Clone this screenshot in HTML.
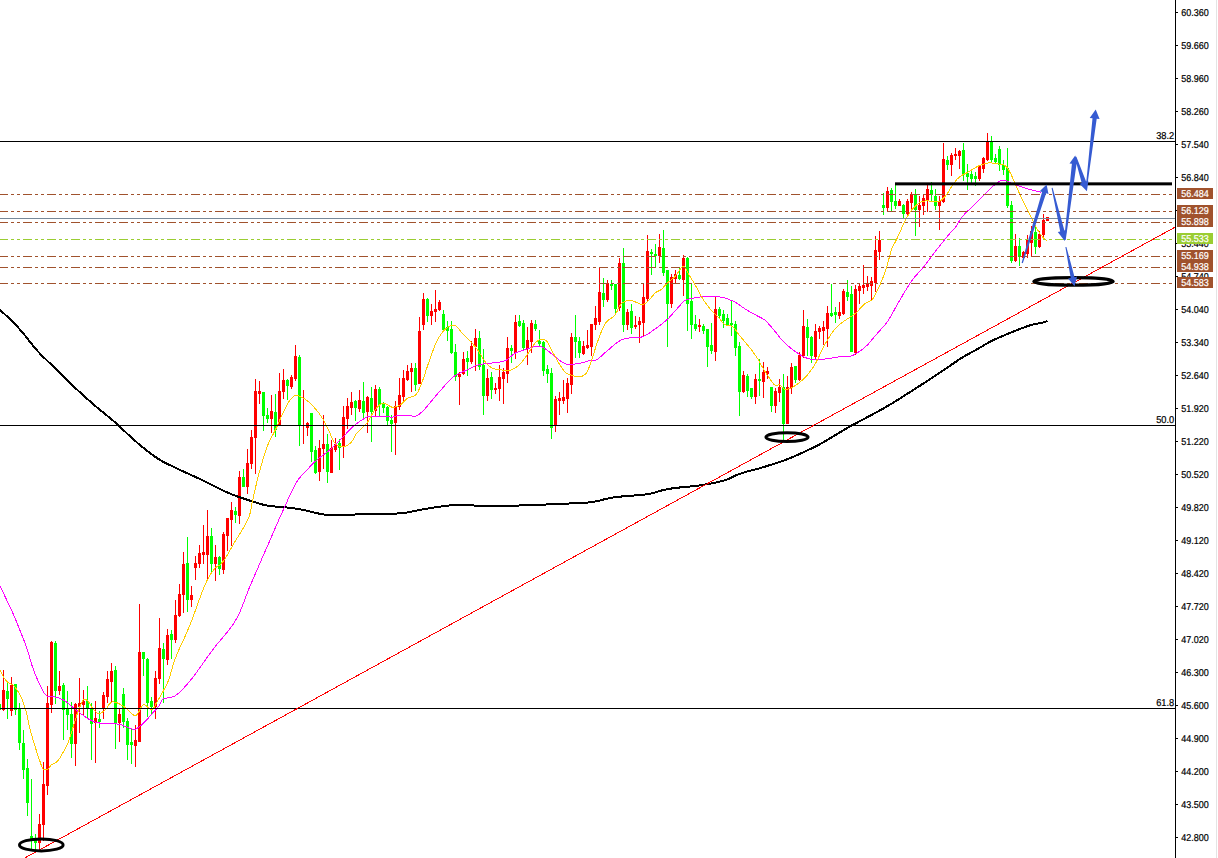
<!DOCTYPE html>
<html><head><meta charset="utf-8"><title>chart</title>
<style>
html,body{margin:0;padding:0;background:#fff;}
body{width:1218px;height:858px;overflow:hidden;font-family:"Liberation Sans",sans-serif;}
svg{display:block;}
text{font-family:"Liberation Sans",sans-serif;font-size:10px;stroke-width:0.22px;}
</style></head><body>
<svg width="1218" height="858" viewBox="0 0 1218 858">
<rect x="0" y="0" width="1218" height="858" fill="#ffffff"/>
<rect x="1216" y="0" width="1" height="858" fill="#e4e4e4"/>
<g fill="#FF0000" shape-rendering="crispEdges"><rect x="3" y="670" width="1" height="41"/><rect x="2" y="690" width="3" height="20"/><rect x="11" y="677" width="1" height="39"/><rect x="10" y="685" width="3" height="26"/><rect x="39" y="814" width="1" height="36"/><rect x="38" y="824" width="3" height="19"/><rect x="43" y="762" width="1" height="79"/><rect x="42" y="784" width="3" height="41"/><rect x="47" y="686" width="1" height="109"/><rect x="46" y="703" width="3" height="83"/><rect x="51" y="641" width="1" height="72"/><rect x="50" y="642" width="3" height="63"/><rect x="59" y="671" width="1" height="24"/><rect x="58" y="686" width="3" height="5"/><rect x="75" y="703" width="1" height="63"/><rect x="74" y="704" width="3" height="40"/><rect x="79" y="678" width="1" height="55"/><rect x="78" y="703" width="3" height="4"/><rect x="83" y="690" width="1" height="25"/><rect x="82" y="701" width="3" height="4"/><rect x="95" y="701" width="1" height="62"/><rect x="94" y="718" width="3" height="5"/><rect x="103" y="692" width="1" height="27"/><rect x="102" y="695" width="3" height="14"/><rect x="107" y="671" width="1" height="32"/><rect x="106" y="679" width="3" height="18"/><rect x="111" y="663" width="1" height="40"/><rect x="110" y="671" width="3" height="11"/><rect x="119" y="709" width="1" height="33"/><rect x="118" y="714" width="3" height="9"/><rect x="135" y="725" width="1" height="42"/><rect x="134" y="740" width="3" height="6"/><rect x="139" y="604" width="1" height="138"/><rect x="138" y="652" width="3" height="90"/><rect x="155" y="671" width="1" height="48"/><rect x="154" y="678" width="3" height="29"/><rect x="159" y="618" width="1" height="66"/><rect x="158" y="648" width="3" height="31"/><rect x="167" y="629" width="1" height="36"/><rect x="166" y="635" width="3" height="25"/><rect x="175" y="600" width="1" height="43"/><rect x="174" y="615" width="3" height="25"/><rect x="179" y="584" width="1" height="33"/><rect x="178" y="594" width="3" height="22"/><rect x="183" y="552" width="1" height="61"/><rect x="182" y="564" width="3" height="31"/><rect x="191" y="586" width="1" height="21"/><rect x="190" y="595" width="3" height="5"/><rect x="195" y="556" width="1" height="24"/><rect x="194" y="563" width="3" height="5"/><rect x="199" y="545" width="1" height="23"/><rect x="198" y="553" width="3" height="11"/><rect x="203" y="525" width="1" height="39"/><rect x="202" y="552" width="3" height="3"/><rect x="207" y="510" width="1" height="70"/><rect x="206" y="536" width="3" height="19"/><rect x="215" y="545" width="1" height="36"/><rect x="214" y="557" width="3" height="7"/><rect x="223" y="532" width="1" height="42"/><rect x="222" y="534" width="3" height="36"/><rect x="227" y="518" width="1" height="33"/><rect x="226" y="518" width="3" height="18"/><rect x="231" y="502" width="1" height="44"/><rect x="230" y="510" width="3" height="10"/><rect x="239" y="471" width="1" height="53"/><rect x="238" y="477" width="3" height="39"/><rect x="247" y="449" width="1" height="45"/><rect x="246" y="463" width="3" height="24"/><rect x="251" y="430" width="1" height="39"/><rect x="250" y="437" width="3" height="27"/><rect x="255" y="379" width="1" height="95"/><rect x="254" y="391" width="3" height="47"/><rect x="259" y="381" width="1" height="23"/><rect x="258" y="391" width="3" height="3"/><rect x="271" y="395" width="1" height="38"/><rect x="270" y="411" width="3" height="8"/><rect x="279" y="373" width="1" height="53"/><rect x="278" y="391" width="3" height="35"/><rect x="283" y="369" width="1" height="30"/><rect x="282" y="380" width="3" height="12"/><rect x="291" y="375" width="1" height="14"/><rect x="290" y="377" width="3" height="10"/><rect x="295" y="345" width="1" height="36"/><rect x="294" y="356" width="3" height="23"/><rect x="303" y="390" width="1" height="54"/><rect x="302" y="425" width="3" height="1"/><rect x="307" y="422" width="1" height="14"/><rect x="306" y="423" width="3" height="5"/><rect x="319" y="440" width="1" height="41"/><rect x="318" y="448" width="3" height="24"/><rect x="323" y="415" width="1" height="54"/><rect x="322" y="444" width="3" height="5"/><rect x="331" y="440" width="1" height="33"/><rect x="330" y="448" width="3" height="25"/><rect x="335" y="438" width="1" height="14"/><rect x="334" y="444" width="3" height="6"/><rect x="343" y="406" width="1" height="52"/><rect x="342" y="417" width="3" height="30"/><rect x="347" y="398" width="1" height="31"/><rect x="346" y="406" width="3" height="13"/><rect x="351" y="392" width="1" height="23"/><rect x="350" y="402" width="3" height="6"/><rect x="359" y="390" width="1" height="22"/><rect x="358" y="400" width="3" height="9"/><rect x="367" y="396" width="1" height="37"/><rect x="366" y="397" width="3" height="15"/><rect x="375" y="385" width="1" height="31"/><rect x="374" y="389" width="3" height="22"/><rect x="395" y="401" width="1" height="54"/><rect x="394" y="406" width="3" height="17"/><rect x="399" y="378" width="1" height="32"/><rect x="398" y="395" width="3" height="12"/><rect x="403" y="370" width="1" height="32"/><rect x="402" y="378" width="3" height="19"/><rect x="407" y="365" width="1" height="16"/><rect x="406" y="371" width="3" height="9"/><rect x="411" y="363" width="1" height="29"/><rect x="410" y="368" width="3" height="4"/><rect x="419" y="317" width="1" height="67"/><rect x="418" y="331" width="3" height="53"/><rect x="423" y="293" width="1" height="37"/><rect x="422" y="299" width="3" height="26"/><rect x="431" y="304" width="1" height="21"/><rect x="430" y="311" width="3" height="5"/><rect x="435" y="290" width="1" height="32"/><rect x="434" y="309" width="3" height="3"/><rect x="439" y="300" width="1" height="11"/><rect x="438" y="302" width="3" height="8"/><rect x="459" y="372" width="1" height="33"/><rect x="458" y="374" width="3" height="3"/><rect x="463" y="352" width="1" height="23"/><rect x="462" y="359" width="3" height="15"/><rect x="471" y="341" width="1" height="23"/><rect x="470" y="346" width="3" height="16"/><rect x="475" y="329" width="1" height="42"/><rect x="474" y="338" width="3" height="9"/><rect x="487" y="369" width="1" height="32"/><rect x="486" y="378" width="3" height="18"/><rect x="495" y="383" width="1" height="11"/><rect x="494" y="388" width="3" height="2"/><rect x="499" y="365" width="1" height="36"/><rect x="498" y="377" width="3" height="12"/><rect x="503" y="368" width="1" height="36"/><rect x="502" y="372" width="3" height="7"/><rect x="507" y="337" width="1" height="46"/><rect x="506" y="348" width="3" height="26"/><rect x="515" y="315" width="1" height="44"/><rect x="514" y="322" width="3" height="31"/><rect x="527" y="327" width="1" height="38"/><rect x="526" y="340" width="3" height="9"/><rect x="531" y="320" width="1" height="33"/><rect x="530" y="323" width="3" height="19"/><rect x="555" y="396" width="1" height="36"/><rect x="554" y="399" width="3" height="27"/><rect x="559" y="392" width="1" height="23"/><rect x="558" y="398" width="3" height="3"/><rect x="563" y="380" width="1" height="24"/><rect x="562" y="397" width="3" height="4"/><rect x="567" y="378" width="1" height="35"/><rect x="566" y="383" width="3" height="16"/><rect x="571" y="333" width="1" height="61"/><rect x="570" y="337" width="3" height="48"/><rect x="583" y="341" width="1" height="14"/><rect x="582" y="346" width="3" height="8"/><rect x="587" y="330" width="1" height="19"/><rect x="586" y="345" width="3" height="3"/><rect x="591" y="324" width="1" height="32"/><rect x="590" y="324" width="3" height="23"/><rect x="595" y="306" width="1" height="24"/><rect x="594" y="318" width="3" height="7"/><rect x="599" y="268" width="1" height="57"/><rect x="598" y="292" width="3" height="30"/><rect x="607" y="280" width="1" height="22"/><rect x="606" y="283" width="3" height="17"/><rect x="619" y="258" width="1" height="53"/><rect x="618" y="263" width="3" height="45"/><rect x="627" y="309" width="1" height="21"/><rect x="626" y="312" width="3" height="13"/><rect x="635" y="316" width="1" height="13"/><rect x="634" y="325" width="3" height="2"/><rect x="639" y="317" width="1" height="26"/><rect x="638" y="321" width="3" height="4"/><rect x="643" y="283" width="1" height="54"/><rect x="642" y="297" width="3" height="26"/><rect x="647" y="235" width="1" height="67"/><rect x="646" y="251" width="3" height="48"/><rect x="659" y="234" width="1" height="29"/><rect x="658" y="247" width="3" height="9"/><rect x="671" y="274" width="1" height="34"/><rect x="670" y="277" width="3" height="27"/><rect x="675" y="270" width="1" height="14"/><rect x="674" y="274" width="3" height="5"/><rect x="683" y="255" width="1" height="41"/><rect x="682" y="258" width="3" height="22"/><rect x="699" y="319" width="1" height="13"/><rect x="698" y="325" width="3" height="2"/><rect x="715" y="297" width="1" height="64"/><rect x="714" y="309" width="3" height="43"/><rect x="743" y="371" width="1" height="22"/><rect x="742" y="375" width="3" height="17"/><rect x="755" y="374" width="1" height="30"/><rect x="754" y="379" width="3" height="18"/><rect x="763" y="362" width="1" height="36"/><rect x="762" y="372" width="3" height="10"/><rect x="767" y="367" width="1" height="12"/><rect x="766" y="371" width="3" height="3"/><rect x="775" y="388" width="1" height="25"/><rect x="774" y="391" width="3" height="15"/><rect x="779" y="379" width="1" height="23"/><rect x="778" y="387" width="3" height="6"/><rect x="787" y="376" width="1" height="48"/><rect x="786" y="387" width="3" height="37"/><rect x="791" y="363" width="1" height="31"/><rect x="790" y="367" width="3" height="21"/><rect x="799" y="352" width="1" height="29"/><rect x="798" y="355" width="3" height="25"/><rect x="803" y="310" width="1" height="48"/><rect x="802" y="326" width="3" height="30"/><rect x="815" y="324" width="1" height="36"/><rect x="814" y="331" width="3" height="26"/><rect x="819" y="326" width="1" height="13"/><rect x="818" y="328" width="3" height="4"/><rect x="823" y="321" width="1" height="24"/><rect x="822" y="327" width="3" height="4"/><rect x="827" y="306" width="1" height="41"/><rect x="826" y="313" width="3" height="16"/><rect x="839" y="302" width="1" height="17"/><rect x="838" y="312" width="3" height="4"/><rect x="843" y="289" width="1" height="26"/><rect x="842" y="291" width="3" height="23"/><rect x="855" y="285" width="1" height="70"/><rect x="854" y="289" width="3" height="64"/><rect x="859" y="283" width="1" height="21"/><rect x="858" y="286" width="3" height="5"/><rect x="863" y="265" width="1" height="29"/><rect x="862" y="285" width="3" height="3"/><rect x="867" y="276" width="1" height="15"/><rect x="866" y="284" width="3" height="3"/><rect x="871" y="277" width="1" height="24"/><rect x="870" y="281" width="3" height="5"/><rect x="875" y="236" width="1" height="56"/><rect x="874" y="250" width="3" height="33"/><rect x="879" y="231" width="1" height="29"/><rect x="878" y="240" width="3" height="12"/><rect x="887" y="187" width="1" height="25"/><rect x="886" y="191" width="3" height="17"/><rect x="899" y="199" width="1" height="7"/><rect x="898" y="201" width="3" height="5"/><rect x="907" y="199" width="1" height="16"/><rect x="906" y="201" width="3" height="13"/><rect x="911" y="192" width="1" height="19"/><rect x="910" y="194" width="3" height="9"/><rect x="919" y="196" width="1" height="31"/><rect x="918" y="205" width="3" height="5"/><rect x="923" y="194" width="1" height="21"/><rect x="922" y="198" width="3" height="8"/><rect x="927" y="185" width="1" height="27"/><rect x="926" y="189" width="3" height="11"/><rect x="939" y="196" width="1" height="34"/><rect x="938" y="201" width="3" height="5"/><rect x="943" y="143" width="1" height="60"/><rect x="942" y="159" width="3" height="43"/><rect x="951" y="153" width="1" height="23"/><rect x="950" y="155" width="3" height="10"/><rect x="955" y="148" width="1" height="12"/><rect x="954" y="154" width="3" height="2"/><rect x="959" y="150" width="1" height="19"/><rect x="958" y="151" width="3" height="5"/><rect x="979" y="165" width="1" height="16"/><rect x="978" y="166" width="3" height="13"/><rect x="983" y="157" width="1" height="16"/><rect x="982" y="158" width="3" height="11"/><rect x="987" y="133" width="1" height="28"/><rect x="986" y="141" width="3" height="19"/><rect x="1015" y="234" width="1" height="28"/><rect x="1014" y="246" width="3" height="15"/><rect x="1023" y="251" width="1" height="9"/><rect x="1022" y="252" width="3" height="6"/><rect x="1027" y="235" width="1" height="23"/><rect x="1026" y="240" width="3" height="14"/><rect x="1031" y="226" width="1" height="31"/><rect x="1030" y="231" width="3" height="12"/><rect x="1039" y="231" width="1" height="17"/><rect x="1038" y="234" width="3" height="13"/><rect x="1043" y="214" width="1" height="25"/><rect x="1042" y="220" width="3" height="15"/><rect x="1047" y="217" width="1" height="4"/><rect x="1046" y="217" width="3" height="4"/></g>
<g fill="#00FF00" shape-rendering="crispEdges"><rect x="7" y="683" width="1" height="36"/><rect x="6" y="691" width="3" height="8"/><rect x="15" y="684" width="1" height="31"/><rect x="14" y="684" width="3" height="26"/><rect x="19" y="703" width="1" height="47"/><rect x="18" y="709" width="3" height="34"/><rect x="23" y="730" width="1" height="49"/><rect x="22" y="743" width="3" height="27"/><rect x="27" y="759" width="1" height="57"/><rect x="26" y="768" width="3" height="35"/><rect x="31" y="779" width="1" height="71"/><rect x="30" y="836" width="3" height="4"/><rect x="35" y="834" width="1" height="16"/><rect x="34" y="840" width="3" height="3"/><rect x="55" y="641" width="1" height="63"/><rect x="54" y="643" width="3" height="48"/><rect x="63" y="683" width="1" height="57"/><rect x="62" y="685" width="3" height="25"/><rect x="67" y="691" width="1" height="39"/><rect x="66" y="709" width="3" height="6"/><rect x="71" y="702" width="1" height="56"/><rect x="70" y="714" width="3" height="30"/><rect x="87" y="686" width="1" height="32"/><rect x="86" y="701" width="3" height="8"/><rect x="91" y="703" width="1" height="57"/><rect x="90" y="709" width="3" height="15"/><rect x="99" y="711" width="1" height="17"/><rect x="98" y="719" width="3" height="3"/><rect x="115" y="666" width="1" height="83"/><rect x="114" y="670" width="3" height="53"/><rect x="123" y="688" width="1" height="40"/><rect x="122" y="694" width="3" height="28"/><rect x="127" y="718" width="1" height="42"/><rect x="126" y="721" width="3" height="24"/><rect x="131" y="729" width="1" height="35"/><rect x="130" y="742" width="3" height="3"/><rect x="143" y="652" width="1" height="24"/><rect x="142" y="652" width="3" height="7"/><rect x="147" y="658" width="1" height="59"/><rect x="146" y="659" width="3" height="44"/><rect x="151" y="697" width="1" height="18"/><rect x="150" y="701" width="3" height="6"/><rect x="163" y="643" width="1" height="60"/><rect x="162" y="649" width="3" height="10"/><rect x="171" y="630" width="1" height="29"/><rect x="170" y="634" width="3" height="6"/><rect x="187" y="537" width="1" height="75"/><rect x="186" y="563" width="3" height="37"/><rect x="211" y="528" width="1" height="46"/><rect x="210" y="536" width="3" height="28"/><rect x="219" y="556" width="1" height="19"/><rect x="218" y="557" width="3" height="12"/><rect x="235" y="507" width="1" height="16"/><rect x="234" y="511" width="3" height="4"/><rect x="243" y="469" width="1" height="18"/><rect x="242" y="477" width="3" height="10"/><rect x="263" y="392" width="1" height="39"/><rect x="262" y="392" width="3" height="24"/><rect x="267" y="408" width="1" height="15"/><rect x="266" y="415" width="3" height="4"/><rect x="275" y="394" width="1" height="43"/><rect x="274" y="412" width="3" height="18"/><rect x="287" y="379" width="1" height="21"/><rect x="286" y="380" width="3" height="6"/><rect x="299" y="355" width="1" height="91"/><rect x="298" y="357" width="3" height="69"/><rect x="311" y="413" width="1" height="49"/><rect x="310" y="413" width="3" height="39"/><rect x="315" y="446" width="1" height="28"/><rect x="314" y="450" width="3" height="23"/><rect x="327" y="434" width="1" height="49"/><rect x="326" y="444" width="3" height="28"/><rect x="339" y="439" width="1" height="31"/><rect x="338" y="443" width="3" height="5"/><rect x="355" y="400" width="1" height="21"/><rect x="354" y="401" width="3" height="7"/><rect x="363" y="382" width="1" height="37"/><rect x="362" y="401" width="3" height="12"/><rect x="371" y="387" width="1" height="55"/><rect x="370" y="398" width="3" height="14"/><rect x="379" y="387" width="1" height="29"/><rect x="378" y="389" width="3" height="16"/><rect x="383" y="402" width="1" height="11"/><rect x="382" y="403" width="3" height="5"/><rect x="387" y="406" width="1" height="20"/><rect x="386" y="407" width="3" height="14"/><rect x="391" y="415" width="1" height="37"/><rect x="390" y="420" width="3" height="4"/><rect x="415" y="363" width="1" height="28"/><rect x="414" y="368" width="3" height="17"/><rect x="427" y="298" width="1" height="24"/><rect x="426" y="299" width="3" height="17"/><rect x="443" y="310" width="1" height="21"/><rect x="442" y="314" width="3" height="16"/><rect x="447" y="321" width="1" height="20"/><rect x="446" y="327" width="3" height="4"/><rect x="451" y="321" width="1" height="33"/><rect x="450" y="329" width="3" height="24"/><rect x="455" y="344" width="1" height="37"/><rect x="454" y="352" width="3" height="25"/><rect x="467" y="351" width="1" height="25"/><rect x="466" y="358" width="3" height="4"/><rect x="479" y="331" width="1" height="39"/><rect x="478" y="338" width="3" height="29"/><rect x="483" y="349" width="1" height="66"/><rect x="482" y="365" width="3" height="31"/><rect x="491" y="372" width="1" height="27"/><rect x="490" y="377" width="3" height="13"/><rect x="511" y="345" width="1" height="18"/><rect x="510" y="348" width="3" height="3"/><rect x="519" y="315" width="1" height="12"/><rect x="518" y="321" width="3" height="5"/><rect x="523" y="320" width="1" height="31"/><rect x="522" y="323" width="3" height="25"/><rect x="535" y="320" width="1" height="11"/><rect x="534" y="324" width="3" height="5"/><rect x="539" y="330" width="1" height="17"/><rect x="538" y="341" width="3" height="3"/><rect x="543" y="341" width="1" height="35"/><rect x="542" y="342" width="3" height="29"/><rect x="547" y="365" width="1" height="18"/><rect x="546" y="369" width="3" height="5"/><rect x="551" y="368" width="1" height="71"/><rect x="550" y="373" width="3" height="55"/><rect x="575" y="315" width="1" height="43"/><rect x="574" y="337" width="3" height="5"/><rect x="579" y="337" width="1" height="21"/><rect x="578" y="341" width="3" height="12"/><rect x="603" y="278" width="1" height="29"/><rect x="602" y="293" width="3" height="7"/><rect x="611" y="280" width="1" height="10"/><rect x="610" y="284" width="3" height="2"/><rect x="615" y="284" width="1" height="31"/><rect x="614" y="284" width="3" height="25"/><rect x="623" y="248" width="1" height="84"/><rect x="622" y="263" width="3" height="62"/><rect x="631" y="304" width="1" height="30"/><rect x="630" y="311" width="3" height="17"/><rect x="651" y="249" width="1" height="26"/><rect x="650" y="252" width="3" height="2"/><rect x="655" y="244" width="1" height="24"/><rect x="654" y="254" width="3" height="2"/><rect x="663" y="230" width="1" height="46"/><rect x="662" y="248" width="3" height="25"/><rect x="667" y="270" width="1" height="77"/><rect x="666" y="270" width="3" height="34"/><rect x="679" y="268" width="1" height="12"/><rect x="678" y="275" width="3" height="4"/><rect x="687" y="257" width="1" height="74"/><rect x="686" y="258" width="3" height="46"/><rect x="691" y="284" width="1" height="55"/><rect x="690" y="301" width="3" height="24"/><rect x="695" y="315" width="1" height="16"/><rect x="694" y="324" width="3" height="5"/><rect x="703" y="324" width="1" height="10"/><rect x="702" y="326" width="3" height="5"/><rect x="707" y="329" width="1" height="38"/><rect x="706" y="329" width="3" height="18"/><rect x="711" y="323" width="1" height="31"/><rect x="710" y="345" width="3" height="6"/><rect x="719" y="307" width="1" height="12"/><rect x="718" y="309" width="3" height="7"/><rect x="723" y="310" width="1" height="18"/><rect x="722" y="314" width="3" height="7"/><rect x="727" y="314" width="1" height="12"/><rect x="726" y="318" width="3" height="7"/><rect x="731" y="301" width="1" height="35"/><rect x="730" y="323" width="3" height="2"/><rect x="735" y="321" width="1" height="35"/><rect x="734" y="324" width="3" height="24"/><rect x="739" y="342" width="1" height="74"/><rect x="738" y="346" width="3" height="46"/><rect x="747" y="374" width="1" height="23"/><rect x="746" y="376" width="3" height="15"/><rect x="751" y="388" width="1" height="11"/><rect x="750" y="388" width="3" height="9"/><rect x="759" y="359" width="1" height="37"/><rect x="758" y="379" width="3" height="2"/><rect x="771" y="387" width="1" height="25"/><rect x="770" y="387" width="3" height="19"/><rect x="783" y="374" width="1" height="68"/><rect x="782" y="387" width="3" height="37"/><rect x="795" y="366" width="1" height="17"/><rect x="794" y="366" width="3" height="14"/><rect x="807" y="319" width="1" height="37"/><rect x="806" y="327" width="3" height="11"/><rect x="811" y="336" width="1" height="27"/><rect x="810" y="337" width="3" height="19"/><rect x="831" y="284" width="1" height="33"/><rect x="830" y="313" width="3" height="3"/><rect x="835" y="307" width="1" height="16"/><rect x="834" y="312" width="3" height="3"/><rect x="847" y="280" width="1" height="21"/><rect x="846" y="292" width="3" height="5"/><rect x="851" y="286" width="1" height="66"/><rect x="850" y="294" width="3" height="58"/><rect x="883" y="193" width="1" height="22"/><rect x="882" y="205" width="3" height="3"/><rect x="891" y="188" width="1" height="24"/><rect x="890" y="190" width="3" height="12"/><rect x="895" y="185" width="1" height="24"/><rect x="894" y="201" width="3" height="5"/><rect x="903" y="204" width="1" height="14"/><rect x="902" y="205" width="3" height="9"/><rect x="915" y="189" width="1" height="47"/><rect x="914" y="195" width="3" height="15"/><rect x="931" y="182" width="1" height="20"/><rect x="930" y="190" width="3" height="5"/><rect x="935" y="189" width="1" height="21"/><rect x="934" y="196" width="3" height="10"/><rect x="947" y="156" width="1" height="14"/><rect x="946" y="160" width="3" height="5"/><rect x="963" y="143" width="1" height="38"/><rect x="962" y="150" width="3" height="24"/><rect x="967" y="164" width="1" height="26"/><rect x="966" y="173" width="3" height="4"/><rect x="971" y="169" width="1" height="14"/><rect x="970" y="174" width="3" height="5"/><rect x="975" y="172" width="1" height="14"/><rect x="974" y="176" width="3" height="3"/><rect x="991" y="136" width="1" height="27"/><rect x="990" y="141" width="3" height="19"/><rect x="995" y="154" width="1" height="9"/><rect x="994" y="158" width="3" height="4"/><rect x="999" y="146" width="1" height="25"/><rect x="998" y="149" width="3" height="16"/><rect x="1003" y="160" width="1" height="15"/><rect x="1002" y="165" width="3" height="5"/><rect x="1007" y="148" width="1" height="60"/><rect x="1006" y="168" width="3" height="38"/><rect x="1011" y="201" width="1" height="62"/><rect x="1010" y="205" width="3" height="56"/><rect x="1019" y="238" width="1" height="28"/><rect x="1018" y="246" width="3" height="11"/><rect x="1035" y="227" width="1" height="27"/><rect x="1034" y="232" width="3" height="15"/><rect x="0" y="704" width="1" height="6"/></g>
<polyline points="-1.0,308.7 -0.8,308.9 -0.2,309.4 0.6,310.3 1.8,311.4 3.2,312.8 4.8,314.3 6.6,316.0 8.4,317.8 10.4,319.7 12.3,321.7 14.2,323.6 16.1,325.5 17.9,327.3 19.5,329.1 20.9,330.6 22.4,332.3 23.8,334.0 25.2,335.7 26.5,337.4 27.9,339.1 29.2,340.8 30.5,342.5 31.8,344.1 33.1,345.7 34.3,347.3 35.6,348.8 36.9,350.3 38.5,352.0 39.9,353.5 41.4,355.0 42.8,356.4 44.3,357.9 45.9,359.4 47.5,361.0 49.3,362.7 50.6,363.9 51.9,365.2 53.3,366.6 54.7,368.0 56.2,369.5 57.8,371.0 59.3,372.6 60.9,374.1 62.5,375.7 64.2,377.3 65.8,378.9 67.4,380.4 69.0,382.0 70.6,383.5 72.1,384.9 73.6,386.3 75.0,387.7 76.4,389.0 78.1,390.6 79.7,392.1 81.3,393.5 82.8,394.9 84.3,396.3 85.8,397.6 87.3,399.0 88.8,400.3 90.4,401.7 92.0,403.1 93.6,404.5 95.1,405.8 96.6,407.1 98.2,408.4 99.8,409.7 101.4,411.0 103.1,412.4 104.7,413.7 106.4,415.1 108.0,416.4 109.6,417.7 111.2,419.1 112.8,420.4 114.3,421.7 115.8,423.0 117.5,424.5 119.1,426.0 120.7,427.5 122.3,429.0 123.8,430.5 125.4,431.9 126.9,433.4 128.4,434.8 130.0,436.3 131.5,437.6 133.0,439.0 134.7,440.5 136.4,441.9 138.0,443.4 139.7,444.8 141.3,446.1 143.0,447.5 144.6,448.8 146.2,450.1 147.8,451.3 149.6,452.7 151.3,454.0 153.0,455.2 154.7,456.5 156.4,457.6 158.2,458.8 160.1,460.0 161.8,461.0 163.6,462.0 165.5,462.9 167.3,463.9 169.2,464.8 171.2,465.7 173.2,466.7 175.2,467.6 177.3,468.6 179.0,469.4 180.8,470.3 182.7,471.1 184.5,472.0 186.4,472.8 188.3,473.7 190.3,474.6 192.2,475.5 194.2,476.4 196.1,477.3 198.1,478.2 200.1,479.1 202.0,480.0 203.8,480.9 205.6,481.7 207.4,482.7 209.3,483.6 211.1,484.5 213.0,485.5 214.8,486.4 216.7,487.4 218.5,488.3 220.4,489.2 222.2,490.1 223.9,490.9 225.7,491.7 227.4,492.5 229.0,493.2 231.1,494.1 233.0,494.8 235.0,495.6 236.8,496.2 238.7,496.9 240.5,497.5 242.4,498.1 244.3,498.8 246.3,499.4 248.3,500.1 250.3,500.7 252.4,501.4 254.5,502.1 256.6,502.8 258.7,503.4 260.8,504.0 262.9,504.6 265.0,505.1 267.0,505.5 269.0,505.8 271.1,506.1 273.1,506.3 275.1,506.5 277.1,506.6 279.1,506.7 281.1,506.8 283.0,507.0 285.0,507.2 287.1,507.5 289.2,507.7 291.2,508.0 293.3,508.3 295.3,508.6 297.4,508.9 299.4,509.2 301.5,509.6 303.5,510.0 305.6,510.5 307.7,510.9 309.8,511.5 311.9,512.0 314.0,512.5 315.9,512.9 317.8,513.4 319.5,513.7 321.7,514.1 323.6,514.4 325.5,514.7 327.8,514.9 329.5,515.0 331.4,515.1 333.5,515.1 335.8,515.2 338.1,515.2 340.4,515.2 342.7,515.2 345.0,515.1 347.1,515.1 349.1,515.0 350.8,514.9 353.3,514.7 355.4,514.4 357.5,514.0 360.0,513.8 361.7,513.7 363.5,513.7 365.5,513.7 367.7,513.7 369.9,513.7 372.1,513.7 374.4,513.8 376.7,513.8 379.0,513.8 381.2,513.8 383.3,513.8 385.3,513.8 387.4,513.8 389.5,513.7 391.5,513.7 393.5,513.6 395.4,513.6 397.4,513.5 399.3,513.4 401.3,513.2 403.4,513.0 405.5,512.7 407.5,512.4 409.6,512.0 411.7,511.6 413.8,511.2 416.0,510.7 418.1,510.3 420.4,509.8 422.6,509.4 425.0,509.0 426.9,508.7 428.8,508.4 430.7,508.1 432.7,507.8 434.8,507.4 436.9,507.1 439.0,506.8 441.1,506.5 443.2,506.2 445.3,505.9 447.4,505.7 449.5,505.4 451.6,505.2 453.6,505.0 455.6,504.9 457.5,504.8 459.7,504.7 461.8,504.7 463.9,504.8 466.0,504.9 468.0,505.0 470.1,505.2 472.1,505.3 474.1,505.5 476.2,505.6 478.4,505.7 480.5,505.8 482.8,505.9 484.6,505.9 486.5,505.9 488.4,506.0 490.3,506.0 492.3,506.0 494.3,505.9 496.3,505.9 498.3,505.9 500.3,505.9 502.3,505.9 504.4,505.8 506.5,505.8 508.5,505.7 510.6,505.7 512.7,505.7 514.8,505.6 516.9,505.6 519.0,505.5 521.0,505.4 523.0,505.4 525.1,505.3 527.1,505.2 529.2,505.2 531.3,505.1 533.5,505.0 535.6,504.9 537.7,504.8 539.9,504.7 542.0,504.6 544.2,504.5 546.3,504.5 548.4,504.4 550.5,504.3 552.5,504.2 554.5,504.1 556.5,504.0 558.5,503.9 560.4,503.8 562.3,503.7 564.6,503.6 566.8,503.5 569.0,503.5 571.1,503.4 573.2,503.3 575.3,503.3 577.4,503.2 579.4,503.1 581.4,503.0 583.4,502.9 585.4,502.8 587.4,502.6 589.3,502.4 591.2,502.2 593.3,501.9 595.3,501.5 597.2,501.1 599.1,500.7 601.0,500.2 602.8,499.7 604.7,499.2 606.7,498.7 608.7,498.3 610.7,497.9 612.9,497.5 614.7,497.2 616.6,497.0 618.5,496.8 620.5,496.6 622.6,496.4 624.7,496.2 626.8,496.1 629.0,495.9 631.2,495.7 633.3,495.6 635.4,495.4 637.6,495.3 639.6,495.1 641.6,494.9 643.6,494.7 645.5,494.4 647.3,494.2 649.0,493.9 651.3,493.4 653.3,492.9 655.3,492.4 657.1,491.9 659.0,491.3 660.8,490.7 662.8,490.2 664.8,489.7 667.1,489.2 668.8,488.9 670.6,488.6 672.5,488.4 674.5,488.1 676.5,487.9 678.5,487.6 680.7,487.4 682.8,487.2 684.9,487.0 687.1,486.8 689.3,486.6 691.4,486.4 693.5,486.2 695.6,485.9 697.6,485.7 699.5,485.4 701.4,485.2 703.2,484.9 705.4,484.5 707.6,484.2 709.7,483.8 711.7,483.4 713.7,483.0 715.7,482.6 717.6,482.2 719.5,481.7 721.3,481.2 723.1,480.7 724.9,480.2 727.1,479.4 729.1,478.6 731.1,477.7 733.0,476.7 735.0,475.8 737.0,474.9 739.3,474.0 741.0,473.4 742.8,472.8 744.7,472.3 746.6,471.7 748.6,471.2 750.6,470.6 752.6,470.1 754.7,469.6 756.7,469.0 758.8,468.5 760.7,467.9 762.7,467.4 764.6,466.8 766.6,466.2 768.7,465.5 770.7,464.9 772.7,464.3 774.7,463.6 776.7,463.0 778.6,462.3 780.6,461.7 782.5,461.0 784.4,460.3 786.3,459.6 788.2,458.8 790.2,458.1 792.1,457.3 794.0,456.5 795.8,455.7 797.7,454.8 799.5,454.0 801.4,453.2 803.2,452.3 805.0,451.5 806.9,450.6 808.7,449.8 810.4,448.9 812.2,448.1 814.0,447.2 815.8,446.3 817.6,445.4 819.5,444.4 821.5,443.3 823.1,442.4 824.7,441.5 826.4,440.6 828.1,439.5 829.8,438.5 831.6,437.4 833.4,436.3 835.2,435.2 837.1,434.1 838.9,433.0 840.7,431.9 842.5,430.8 844.3,429.8 846.0,428.7 847.7,427.7 849.4,426.8 851.3,425.8 853.1,424.7 855.0,423.7 856.8,422.8 858.6,421.8 860.3,420.9 862.1,419.9 863.9,419.0 865.6,418.1 867.3,417.2 869.1,416.2 870.8,415.3 872.7,414.3 874.6,413.3 876.4,412.3 878.2,411.3 879.9,410.4 881.8,409.3 883.7,408.3 885.6,407.2 887.7,405.9 890.0,404.6 891.4,403.8 892.8,402.9 894.4,401.9 896.0,400.9 897.7,399.9 899.4,398.8 901.2,397.7 903.0,396.5 904.9,395.3 906.8,394.1 908.8,392.9 910.7,391.6 912.7,390.4 914.7,389.1 916.6,387.9 918.6,386.6 920.5,385.3 922.4,384.1 924.3,382.9 926.2,381.7 928.0,380.5 929.7,379.3 931.4,378.2 933.1,377.2 934.6,376.1 936.1,375.2 937.5,374.3 938.8,373.4 940.0,372.6 942.3,371.1 944.3,369.7 946.1,368.5 947.8,367.3 949.4,366.2 951.0,365.0 952.7,363.9 954.5,362.7 956.2,361.5 957.9,360.4 959.6,359.2 961.3,358.1 963.1,357.0 964.8,356.0 966.6,355.0 968.4,354.0 970.2,353.0 972.0,352.1 973.9,351.1 975.8,350.0 977.5,349.0 979.3,348.0 981.1,347.0 982.9,345.9 984.7,344.8 986.5,343.8 988.4,342.7 990.2,341.7 992.0,340.8 993.9,339.9 995.8,339.0 997.7,338.1 999.5,337.3 1001.4,336.5 1003.3,335.7 1005.1,334.9 1007.0,334.1 1009.0,333.3 1011.0,332.5 1013.0,331.7 1015.0,330.9 1017.0,330.1 1018.9,329.4 1020.8,328.7 1022.8,327.9 1024.8,327.2 1026.7,326.5 1028.7,325.8 1030.5,325.1 1032.4,324.6 1034.8,324.1 1037.2,323.7 1039.5,323.3 1041.6,322.9 1044.1,322.1 1046.4,321.3 1047.4,320.9" fill="none" stroke="#000000" stroke-width="2" shape-rendering="crispEdges" />
<polyline points="0.0,586.0 0.1,586.2 0.5,586.9 1.0,588.0 1.7,589.5 2.5,591.2 3.5,593.2 4.5,595.4 5.6,597.7 6.8,600.2 7.9,602.7 9.1,605.1 10.2,607.5 11.3,609.8 12.3,612.0 13.2,613.9 13.9,615.6 14.9,617.9 15.8,620.0 16.6,622.0 17.4,624.0 18.2,625.9 19.0,627.9 19.8,630.0 20.5,631.8 21.3,633.6 22.0,635.5 22.8,637.3 23.5,639.2 24.2,641.1 25.0,643.1 25.7,645.0 26.4,647.0 27.1,649.0 27.7,651.1 28.4,653.2 29.0,655.4 29.6,657.5 30.3,659.7 30.9,661.9 31.5,664.0 32.2,666.0 32.9,668.0 33.7,670.1 34.5,672.2 35.2,674.3 36.1,676.3 36.9,678.3 37.7,680.3 38.6,682.2 39.5,684.0 40.6,686.3 41.8,688.6 42.9,690.9 44.2,693.0 45.4,694.7 46.8,695.9 49.6,696.5 52.7,696.5 54.6,696.9 56.8,697.4 59.0,698.1 61.1,698.9 63.2,699.8 65.2,701.0 67.0,702.4 68.9,703.9 70.7,705.5 72.5,707.0 74.3,708.5 76.1,710.0 78.0,711.4 79.8,712.9 81.7,714.3 83.4,715.5 85.1,716.7 86.8,717.9 88.6,719.0 90.4,720.0 92.2,720.9 94.2,721.7 96.3,722.3 98.4,722.8 100.5,723.2 102.8,723.5 104.9,723.7 107.2,723.8 109.6,723.8 112.1,723.8 114.4,723.8 116.6,723.9 118.6,724.2 120.8,724.7 122.7,725.4 124.6,726.1 126.5,726.8 128.5,727.6 130.5,728.6 132.5,729.3 134.4,729.5 136.4,728.8 138.4,727.5 140.3,725.9 142.3,724.2 143.9,722.8 145.4,721.2 146.9,719.5 148.5,717.8 150.0,716.0 151.5,714.3 153.0,712.6 154.6,710.9 156.2,709.2 157.6,707.5 158.9,705.9 160.0,704.4 161.1,701.6 162.3,699.4 164.2,698.5 166.6,698.0 169.2,697.6 171.4,697.2 173.5,696.6 175.5,695.6 176.7,694.7 178.1,693.6 179.6,692.2 181.2,690.6 182.8,689.0 184.5,687.2 186.1,685.3 187.8,683.5 189.4,681.6 190.6,680.2 191.8,678.6 193.1,677.0 194.4,675.3 195.7,673.6 197.0,671.8 198.2,670.0 199.5,668.2 200.8,666.5 202.0,664.7 203.2,663.0 204.4,661.4 205.5,659.8 206.5,658.3 207.5,657.0 208.9,655.1 210.1,653.4 211.2,651.8 212.4,650.3 213.6,648.6 215.0,646.8 216.1,645.4 217.3,643.9 218.6,642.4 220.0,640.7 221.5,639.0 222.9,637.3 224.4,635.6 225.8,633.9 227.3,632.2 228.6,630.5 229.9,628.8 231.1,627.2 232.2,625.7 233.5,623.7 234.7,621.8 235.8,620.0 236.8,618.2 237.7,616.4 238.7,614.4 239.7,612.3 240.5,610.6 241.2,608.9 241.9,607.1 242.7,605.2 243.4,603.3 244.1,601.4 244.9,599.4 245.6,597.4 246.3,595.4 247.1,593.5 247.8,591.5 248.6,589.6 249.4,587.6 250.3,585.6 251.1,583.6 252.0,581.5 252.9,579.4 253.8,577.4 254.6,575.3 255.5,573.4 256.4,571.4 257.2,569.5 258.0,567.7 258.7,566.0 259.6,564.0 260.4,562.0 261.2,560.2 262.0,558.4 262.7,556.7 263.5,554.9 264.3,553.1 265.1,551.3 265.9,549.5 266.7,547.8 267.4,546.0 268.3,544.1 269.1,542.2 270.1,540.0 270.8,538.4 271.5,536.8 272.2,535.1 273.0,533.3 273.8,531.4 274.6,529.5 275.5,527.5 276.4,525.5 277.2,523.5 278.1,521.5 279.0,519.4 279.9,517.4 280.8,515.4 281.7,513.4 282.5,511.5 283.4,509.6 284.3,507.6 285.2,505.6 286.1,503.5 287.1,501.5 288.0,499.4 288.9,497.3 289.9,495.2 290.8,493.2 291.8,491.2 292.7,489.3 293.7,487.4 294.6,485.6 295.5,483.9 296.5,482.4 297.4,480.9 298.9,478.8 300.4,476.9 301.8,475.3 303.3,473.7 304.8,472.1 306.4,470.5 307.9,468.9 309.3,467.4 310.8,465.8 312.4,464.3 313.9,462.7 315.5,461.2 317.1,459.8 318.7,458.4 320.4,457.1 322.1,455.8 323.8,454.5 325.4,453.3 327.1,452.0 328.6,450.8 330.3,449.4 331.8,448.0 333.4,446.6 335.0,445.1 336.8,443.4 338.1,442.2 339.4,440.8 340.8,439.3 342.3,437.7 343.9,436.0 345.5,434.3 347.1,432.6 348.7,430.9 350.3,429.3 351.9,427.7 353.5,426.2 355.0,424.9 356.5,423.7 358.5,422.2 360.4,420.9 362.4,419.6 364.3,418.5 366.1,417.5 367.9,416.8 369.7,416.3 371.8,416.1 373.8,416.4 375.8,416.8 377.9,417.0 380.4,416.9 383.1,416.5 385.6,416.3 387.8,416.3 390.0,417.1 391.9,417.6 394.3,416.3 395.8,416.0 397.8,415.8 400.1,415.6 402.5,415.5 404.9,415.5 407.2,415.5 409.1,415.5 411.5,415.9 413.6,416.4 415.7,416.3 417.5,415.5 419.3,414.2 421.1,412.6 423.0,410.8 424.2,409.6 425.4,408.3 426.7,406.8 428.0,405.3 429.4,403.6 430.8,401.9 432.2,400.2 433.6,398.5 435.0,396.8 436.4,395.1 437.8,393.5 439.2,391.9 440.7,390.2 442.2,388.5 443.7,386.8 445.2,385.0 446.7,383.4 448.2,381.7 449.8,380.2 451.3,378.8 452.7,377.5 454.2,376.3 456.1,375.0 458.0,373.9 459.9,373.0 461.8,372.2 463.7,371.4 465.7,370.5 467.5,369.6 469.4,368.7 471.3,367.8 473.2,366.9 475.1,366.1 477.0,365.4 478.9,364.8 481.1,364.3 483.2,364.0 485.4,363.7 487.6,363.5 489.8,363.3 492.0,363.0 494.2,362.7 496.5,362.5 498.8,362.2 501.0,361.9 503.2,361.4 505.2,360.7 507.0,359.7 508.6,358.5 510.2,357.1 511.7,355.7 513.3,354.4 515.0,353.3 516.8,352.4 518.8,351.7 520.8,351.0 522.7,350.4 524.7,349.8 526.5,349.2 528.7,348.4 530.8,347.6 532.9,346.9 534.8,346.4 537.7,346.1 540.5,346.4 542.3,347.1 544.1,348.2 546.0,349.4 547.9,350.8 549.5,352.0 551.1,353.4 552.8,354.9 554.5,356.3 556.2,357.7 557.8,359.0 559.9,360.5 561.9,361.9 564.0,363.2 566.0,364.0 568.1,364.4 570.3,364.4 572.6,364.3 574.7,364.1 577.1,363.7 579.6,363.3 581.9,362.8 584.0,362.3 586.1,361.7 588.1,361.0 590.0,360.5 592.0,360.4 593.9,360.4 596.0,360.0 597.6,359.1 599.3,357.9 601.0,356.4 602.7,354.8 604.5,353.1 606.4,351.5 607.9,350.2 609.6,348.9 611.2,347.4 613.0,345.9 614.7,344.5 616.4,343.1 618.1,341.9 619.7,340.8 621.2,340.0 623.3,339.2 625.3,338.7 627.2,338.3 629.4,338.0 631.4,337.8 633.6,337.7 635.9,337.6 638.2,337.5 640.4,337.3 642.6,336.7 644.5,335.9 646.5,334.9 648.4,333.7 650.2,332.5 652.1,331.1 653.9,329.8 655.7,328.5 657.4,327.3 659.1,326.1 660.8,324.8 662.5,323.5 664.1,322.2 665.7,320.9 667.2,319.5 668.7,318.1 670.1,316.5 671.6,315.0 672.9,313.4 674.3,311.8 675.6,310.3 677.0,308.8 678.7,306.9 680.3,305.0 682.0,303.1 683.6,301.5 685.3,300.3 687.4,299.4 689.5,298.9 691.9,298.5 693.8,298.1 695.9,297.7 698.1,297.3 700.3,297.0 702.7,296.7 705.0,296.5 707.0,296.4 709.0,296.4 711.1,296.4 713.3,296.4 715.4,296.5 717.5,296.7 719.5,297.0 721.5,297.3 723.8,297.8 726.1,298.4 728.3,299.2 730.4,300.0 732.5,300.9 734.6,301.9 736.6,303.0 738.5,304.2 740.3,305.6 742.1,306.9 744.1,308.3 746.1,309.6 747.9,310.7 749.8,311.8 751.9,312.9 754.0,314.1 756.1,315.2 758.1,316.3 759.9,317.2 761.4,318.0 762.6,318.7 764.8,320.0 766.0,321.1 767.4,322.5 768.9,324.3 770.6,326.2 772.2,328.1 773.8,329.9 775.2,331.6 776.5,333.3 777.9,335.1 779.2,336.8 780.6,338.6 782.1,340.3 783.7,342.0 785.2,343.4 786.8,344.8 788.4,346.2 790.1,347.6 791.8,349.0 793.6,350.3 795.3,351.5 796.9,352.7 798.5,353.7 800.5,355.0 802.4,356.1 804.3,357.1 806.2,357.9 808.3,358.6 810.3,359.0 812.5,359.3 814.7,359.5 816.9,359.5 819.2,359.5 821.5,359.4 823.5,359.3 825.5,359.0 827.6,358.7 829.7,358.3 831.8,358.0 833.9,357.6 835.9,357.3 837.9,357.0 840.2,356.8 842.6,356.7 844.9,356.7 847.1,356.6 849.2,356.4 851.0,356.0 853.1,355.3 854.8,354.3 856.7,353.2 858.4,352.1 860.2,351.0 862.0,349.6 863.9,348.2 865.7,346.6 867.1,345.2 868.6,343.7 870.0,342.0 871.5,340.3 872.9,338.6 874.4,336.8 875.8,335.1 877.2,333.5 878.7,331.9 880.1,330.3 881.5,328.7 882.9,327.2 884.3,325.6 885.7,323.9 887.1,322.0 888.2,320.4 889.2,318.8 890.3,317.1 891.3,315.3 892.3,313.5 893.3,311.6 894.4,309.7 895.4,307.8 896.5,305.9 897.5,304.0 898.6,302.2 899.6,300.4 900.7,298.6 901.8,296.8 902.8,295.0 903.9,293.2 905.0,291.3 906.1,289.5 907.2,287.7 908.3,285.9 909.4,284.2 910.5,282.5 911.7,280.9 913.0,279.2 914.3,277.5 915.6,275.9 917.0,274.4 918.4,272.8 919.7,271.3 921.1,269.8 922.4,268.3 923.7,266.8 924.9,265.3 926.2,263.6 927.5,262.0 928.7,260.3 929.9,258.7 931.0,257.0 932.3,255.4 933.5,253.7 934.8,252.0 936.0,250.4 937.3,248.8 938.7,247.1 940.0,245.4 941.4,243.6 942.8,242.0 944.1,240.3 945.4,238.7 946.7,237.1 947.9,235.7 949.4,234.0 950.8,232.4 952.2,230.9 953.6,229.4 954.9,227.9 956.1,226.3 957.3,224.5 958.4,222.6 959.5,220.8 960.6,218.9 962.0,217.0 963.2,215.6 964.5,214.2 965.9,212.7 967.4,211.3 969.0,209.8 970.6,208.3 972.2,206.8 973.7,205.4 975.2,203.9 976.7,202.4 978.2,200.9 979.7,199.4 981.2,197.8 982.7,196.3 984.1,194.8 985.6,193.4 987.0,192.0 988.3,190.7 990.1,189.0 991.8,187.4 993.4,185.9 995.0,184.5 996.5,183.3 999.0,181.6 1001.5,180.5 1003.9,180.4 1006.4,180.9 1008.3,181.6 1010.3,182.5 1012.4,183.5 1014.6,184.5 1016.4,185.2 1018.2,185.8 1020.1,186.4 1022.1,187.1 1024.1,187.7 1026.1,188.3 1028.4,189.0 1031.0,189.7 1033.9,190.5 1036.5,191.2 1038.8,191.8 1040.3,192.2 1040.9,192.4" fill="none" stroke="#FF00FF" stroke-width="1" shape-rendering="crispEdges" />
<polyline points="0.0,670.0 0.3,670.7 1.1,672.4 2.3,674.7 3.7,677.3 5.2,679.6 6.6,681.4 8.7,682.9 11.0,683.9 13.2,685.3 14.7,686.8 16.0,688.5 17.4,690.5 18.6,692.5 19.8,694.6 20.7,696.3 21.5,698.0 22.2,699.8 23.0,701.7 23.6,703.6 24.3,705.6 25.0,707.7 25.5,709.5 26.1,711.5 26.6,713.5 27.1,715.6 27.5,717.8 28.0,719.9 28.5,722.1 28.9,724.2 29.4,726.2 29.8,728.2 30.3,730.0 30.9,732.4 31.5,734.5 32.1,736.6 32.7,738.7 33.3,740.8 34.0,743.0 34.6,745.1 35.3,747.2 36.0,749.4 36.7,751.7 37.4,753.9 38.1,756.1 38.8,758.1 39.5,760.0 40.3,762.2 41.0,764.5 41.7,766.5 42.6,768.2 43.5,769.4 46.8,770.0 48.3,768.7 49.8,766.6 51.4,764.7 54.0,763.4 56.7,762.0 58.1,760.5 59.5,758.6 60.8,756.5 62.0,754.3 63.2,752.2 64.2,750.4 65.2,748.7 66.1,746.9 67.0,745.1 67.9,743.0 68.6,741.3 69.3,739.4 69.9,737.4 70.6,735.3 71.2,733.2 71.9,731.1 72.5,729.0 73.2,726.9 73.8,724.9 74.5,722.8 75.1,720.8 75.7,718.7 76.3,716.6 77.0,714.6 77.6,712.7 78.3,710.8 79.0,709.0 80.0,706.6 81.0,704.0 82.1,701.7 83.2,699.9 84.3,699.0 87.6,700.5 88.7,701.9 89.8,703.8 90.9,705.9 92.2,707.7 93.7,709.5 95.3,711.5 97.1,713.0 98.8,713.7 101.0,713.1 103.2,711.6 105.4,709.7 106.7,708.2 107.9,706.3 109.1,704.4 110.5,702.9 112.0,702.0 113.7,701.9 115.6,702.3 117.7,703.1 119.8,704.1 121.8,705.3 123.8,706.4 125.6,707.7 127.4,709.3 129.2,711.1 130.9,712.9 132.6,714.4 134.2,715.4 135.7,715.6 137.2,714.6 138.5,712.6 139.8,710.0 141.0,707.4 142.2,705.4 143.6,704.4 145.5,705.1 147.6,707.0 149.7,709.0 151.5,709.7 152.8,709.0 154.0,707.5 155.1,705.5 156.2,703.2 157.4,701.0 158.3,699.5 159.3,697.9 160.3,696.2 161.3,694.4 162.4,692.6 163.4,690.7 164.5,688.7 165.5,686.8 166.5,684.8 167.4,682.9 168.2,681.0 169.0,679.0 169.7,676.9 170.4,674.8 170.9,672.8 171.5,670.7 172.1,668.6 172.7,666.4 173.3,664.3 173.9,662.2 174.7,660.0 175.4,658.1 176.2,656.2 177.0,654.2 177.9,652.3 178.7,650.3 179.6,648.2 180.5,646.3 181.4,644.3 182.3,642.4 183.2,640.5 184.0,638.7 184.8,636.9 185.5,635.3 186.4,633.3 187.2,631.5 187.9,629.8 188.6,628.1 189.4,626.4 190.2,624.5 191.0,622.4 191.6,620.8 192.3,619.0 193.0,617.0 193.8,615.0 194.5,612.9 195.3,610.8 196.1,608.6 196.8,606.4 197.6,604.2 198.4,602.1 199.1,600.0 199.9,598.0 200.6,596.0 201.3,594.2 201.9,592.6 202.7,590.5 203.5,588.5 204.3,586.6 205.0,584.9 205.8,583.2 206.6,581.4 207.5,579.7 208.6,577.8 209.7,575.8 210.9,573.8 212.2,571.8 213.4,570.1 214.6,568.6 215.7,567.4 217.5,566.4 219.3,565.5 220.9,564.0 222.5,562.1 224.2,559.8 225.2,558.4 226.2,556.8 227.2,555.1 228.3,553.3 229.4,551.4 230.5,549.4 231.7,547.4 232.8,545.4 234.0,543.3 234.9,541.7 235.9,540.1 237.0,538.3 238.1,536.6 239.2,534.8 240.3,532.9 241.5,531.1 242.6,529.2 243.7,527.4 244.7,525.5 245.7,523.7 246.6,522.0 247.5,520.2 248.2,518.6 248.9,517.0 249.7,514.8 250.2,512.7 250.7,510.7 251.0,508.8 251.3,506.7 251.7,504.6 252.2,502.2 252.6,500.6 253.0,498.8 253.4,497.0 253.8,495.1 254.2,493.2 254.7,491.2 255.1,489.2 255.6,487.1 256.1,485.1 256.6,483.0 257.1,480.9 257.6,478.8 258.1,476.8 258.6,474.8 259.1,472.9 259.6,471.0 260.2,468.9 260.8,466.8 261.4,464.7 262.0,462.6 262.6,460.5 263.2,458.4 263.8,456.4 264.4,454.4 265.1,452.4 265.7,450.5 266.4,448.6 267.1,446.8 267.8,445.0 268.7,443.0 269.6,441.0 270.5,439.2 271.4,437.4 272.4,435.6 273.3,433.9 274.2,432.1 275.1,430.4 276.0,428.6 276.9,426.7 277.7,424.9 278.5,423.0 279.3,421.1 280.1,419.3 280.9,417.5 281.7,415.6 282.6,413.8 283.6,411.9 284.5,409.8 285.6,407.7 286.6,405.7 287.7,403.7 288.7,401.9 289.8,400.3 290.8,399.0 292.4,397.3 293.9,396.0 295.7,395.4 297.8,395.6 300.1,396.4 302.5,397.6 304.8,399.0 306.4,400.1 308.0,401.3 309.5,402.7 311.1,404.2 312.6,405.8 314.1,407.3 315.5,408.9 316.8,410.5 318.1,412.1 319.3,413.7 320.5,415.4 321.6,417.1 322.7,418.8 323.7,420.4 324.8,422.4 325.8,424.3 326.7,426.2 327.6,428.2 328.6,430.2 329.5,432.1 330.3,434.1 331.1,436.2 332.0,438.3 333.0,440.3 334.0,442.0 335.2,443.4 337.1,444.9 339.2,446.1 341.3,446.8 343.4,447.0 345.6,446.4 347.7,445.1 349.8,443.5 351.6,441.7 353.0,439.9 354.1,437.8 355.1,435.6 356.5,433.5 357.9,431.9 359.6,430.3 361.3,428.8 363.1,427.2 364.8,425.5 366.4,423.7 367.7,421.9 368.9,420.0 370.1,418.0 371.2,415.9 372.3,414.0 373.4,412.1 374.6,410.5 376.2,408.5 377.9,406.6 379.5,405.0 381.2,404.0 383.6,403.6 386.1,404.0 388.0,405.0 389.9,406.3 391.9,407.2 394.3,407.2 396.8,406.6 399.3,405.6 401.0,404.4 402.6,402.9 404.2,401.2 405.8,399.5 407.5,398.2 409.6,397.3 411.7,396.7 413.9,396.0 415.7,394.9 416.9,393.5 417.9,391.9 418.8,390.0 419.7,388.0 420.5,385.9 421.4,383.7 422.1,382.0 422.7,380.3 423.4,378.4 424.1,376.5 424.7,374.5 425.4,372.5 426.0,370.4 426.7,368.4 427.4,366.3 428.1,364.3 428.8,362.3 429.5,360.4 430.2,358.4 430.9,356.4 431.6,354.3 432.3,352.3 433.1,350.2 433.8,348.2 434.6,346.3 435.3,344.4 436.1,342.6 437.0,340.9 437.8,339.3 439.1,337.1 440.4,335.1 441.7,333.2 443.1,331.5 444.5,329.9 446.0,328.6 448.0,327.1 450.1,325.9 452.2,325.1 454.2,325.0 455.9,325.8 457.6,327.4 459.2,329.5 460.8,331.6 462.4,333.5 464.1,335.2 465.8,336.8 467.5,338.5 469.1,340.2 470.7,341.8 472.4,343.6 474.0,345.3 475.6,347.2 477.2,349.2 478.4,350.9 479.5,352.8 480.7,354.8 481.9,356.9 483.1,358.9 484.3,360.7 485.5,362.3 487.0,364.1 488.6,365.6 490.2,366.9 492.0,368.0 493.8,368.7 495.8,369.2 497.9,369.5 500.0,369.8 501.9,370.0 504.2,370.3 506.4,370.6 508.5,370.5 510.7,370.0 512.9,369.1 515.0,368.0 516.7,366.8 518.4,365.5 520.0,363.9 521.6,362.3 523.0,360.7 524.3,358.9 525.6,357.1 526.9,355.2 528.2,353.3 529.5,351.3 530.8,349.1 532.1,347.0 533.4,345.1 534.8,343.4 536.9,341.4 539.1,339.8 541.3,339.0 543.9,339.4 546.3,340.9 547.5,342.2 548.6,344.0 549.6,346.0 550.7,348.2 551.7,350.4 552.8,352.4 553.9,354.4 555.0,356.3 556.1,358.3 557.1,360.3 558.3,362.2 559.4,364.0 560.7,366.0 562.0,368.1 563.3,370.0 564.6,371.7 566.0,373.0 568.3,374.2 570.9,375.0 572.8,375.7 574.9,376.4 577.1,376.9 579.1,377.0 581.5,376.5 583.7,375.4 585.7,373.8 586.8,372.4 587.8,370.7 588.6,368.7 589.4,366.5 590.2,364.3 591.0,362.0 591.6,360.3 592.3,358.4 592.9,356.4 593.5,354.4 594.2,352.3 594.8,350.2 595.4,348.1 596.1,346.0 596.8,343.9 597.5,341.9 598.2,340.0 599.0,337.8 599.9,335.6 600.7,333.4 601.5,331.3 602.4,329.2 603.3,327.1 604.3,325.3 605.3,323.5 606.4,322.0 608.0,320.4 609.7,319.1 611.5,318.0 613.2,316.9 614.7,315.4 615.9,313.6 617.0,311.6 617.9,309.4 618.9,307.3 620.0,305.4 621.2,303.9 622.9,302.5 624.8,301.4 626.7,300.7 628.6,300.3 631.1,300.5 633.6,301.3 636.0,302.2 638.2,303.2 640.4,304.4 642.6,304.7 644.3,304.0 646.0,302.8 647.7,301.2 649.3,299.5 650.8,298.0 652.5,296.0 654.1,294.1 655.7,292.4 658.2,291.2 660.7,289.9 662.3,288.5 663.9,286.8 665.5,285.0 667.2,283.3 668.8,281.9 670.5,280.4 672.2,279.0 673.9,277.5 675.5,275.9 676.9,274.1 678.4,272.0 679.8,269.8 681.2,267.8 682.5,266.5 683.7,266.0 685.0,267.0 686.2,269.1 687.4,271.8 688.6,274.3 689.6,276.0 690.7,277.7 691.9,279.5 693.0,281.3 694.1,283.1 695.2,285.0 696.3,287.0 697.4,289.1 698.4,291.1 699.5,293.2 700.6,295.3 701.8,297.3 702.9,299.0 704.0,300.7 705.2,302.4 706.3,304.1 707.5,305.7 708.8,307.3 710.0,308.8 711.6,310.6 713.3,312.2 715.0,313.8 716.6,315.4 718.2,317.0 719.9,319.0 721.4,321.0 723.0,322.9 724.8,324.4 726.8,325.2 729.0,325.6 731.1,326.1 733.0,326.9 734.4,328.2 735.6,329.9 736.6,331.7 737.9,333.5 739.1,335.0 740.5,336.7 741.9,338.3 743.4,340.0 744.8,341.7 746.1,343.3 747.5,345.0 748.8,346.6 750.1,348.2 751.4,349.8 752.7,351.5 754.1,353.5 755.5,355.5 756.9,357.6 758.2,359.6 759.3,361.4 760.5,363.7 761.7,366.0 762.7,367.7 763.8,369.6 765.0,371.6 766.3,373.7 767.6,375.7 768.9,377.5 770.2,379.4 771.5,381.3 772.9,383.1 774.2,384.6 775.5,385.4 777.6,385.0 779.6,384.6 781.2,386.0 782.7,388.0 784.5,389.4 786.5,389.4 788.8,388.8 791.2,387.8 793.5,386.6 795.1,385.7 796.8,384.5 798.5,383.3 800.2,381.9 801.9,380.5 803.5,379.0 805.0,377.5 806.4,376.1 807.7,374.6 809.0,373.0 810.2,371.4 811.4,369.7 812.6,368.0 813.8,366.2 814.9,364.4 815.9,362.7 816.8,360.9 817.8,359.1 818.7,357.2 819.5,355.3 820.4,353.4 821.3,351.5 822.2,349.6 823.1,347.8 824.0,346.0 825.1,344.0 826.2,342.1 827.3,340.2 828.5,338.3 829.6,336.4 830.7,334.7 831.9,333.0 833.0,331.5 834.4,329.8 835.7,328.2 837.1,326.7 838.5,325.3 840.0,324.0 841.9,322.6 843.8,321.3 845.7,320.0 847.7,318.7 849.3,317.6 851.0,316.5 852.6,315.4 854.2,314.2 855.9,312.9 857.5,311.4 859.2,309.6 860.9,307.7 862.5,305.9 864.2,304.3 865.7,303.0 867.7,302.0 869.7,301.4 871.5,300.3 872.7,299.0 873.8,297.3 874.9,295.4 875.9,293.3 877.0,291.2 878.0,289.0 878.9,287.2 879.8,285.3 880.6,283.3 881.5,281.2 882.4,279.2 883.2,277.1 884.0,275.0 884.8,273.0 885.5,271.0 886.2,268.8 886.9,266.6 887.5,264.4 888.0,262.2 888.6,260.1 889.1,258.1 889.6,256.2 890.2,254.0 890.7,251.9 891.3,250.0 892.0,248.0 892.9,246.1 893.9,244.2 895.1,242.3 896.3,240.0 897.1,238.4 897.9,236.6 898.8,234.7 899.7,232.7 900.6,230.5 901.6,228.4 902.5,226.2 903.5,224.2 904.4,222.2 905.3,220.4 906.2,218.7 907.5,216.4 908.8,214.3 910.0,212.3 911.3,210.5 912.7,208.8 914.3,207.1 915.9,205.5 917.6,204.1 919.3,203.0 921.4,202.0 923.5,201.3 925.9,200.9 927.9,200.9 930.1,201.1 932.5,201.4 934.9,201.7 937.1,201.7 939.0,201.4 940.9,200.4 942.6,199.1 944.1,197.4 945.6,195.7 947.0,193.9 948.3,191.9 949.6,189.8 950.9,187.8 952.2,185.8 953.4,184.1 954.6,182.3 955.9,180.6 957.2,179.1 958.7,177.6 960.5,176.3 962.4,175.1 964.5,174.0 966.6,172.9 968.6,171.8 970.6,170.6 972.5,169.4 974.5,168.1 976.5,167.0 978.5,166.0 980.4,165.2 982.4,164.4 984.4,163.8 986.4,163.3 988.3,163.0 990.4,162.9 992.4,163.0 994.4,163.3 996.5,163.6 998.9,164.0 1001.3,164.4 1003.6,165.0 1005.6,166.0 1007.2,167.6 1008.5,169.6 1009.7,171.8 1010.7,173.7 1011.7,175.7 1012.6,177.9 1013.6,180.2 1014.6,182.5 1015.4,184.2 1016.2,186.1 1017.0,187.9 1017.8,189.8 1018.7,191.7 1019.5,193.6 1020.4,195.5 1021.2,197.3 1022.1,199.2 1023.1,201.1 1024.0,203.0 1025.0,204.9 1025.9,206.8 1026.9,208.6 1027.8,210.5 1028.7,212.4 1029.6,214.3 1030.6,216.2 1031.5,218.1 1032.4,219.9 1033.3,221.8 1034.3,223.6 1035.4,225.6 1036.4,227.6 1037.5,229.6 1038.6,231.6 1039.7,233.4 1040.9,235.0 1042.6,236.9 1044.5,238.9 1046.1,240.3 1046.7,240.9" fill="none" stroke="#FFCC00" stroke-width="1" shape-rendering="crispEdges" />
<g shape-rendering="crispEdges" fill="#000"><rect x="0" y="141" width="1175" height="1"/><rect x="0" y="425" width="1175" height="1"/><rect x="0" y="708" width="1175" height="1"/></g>
<rect x="0" y="218" width="1176" height="1" fill="#778899" shape-rendering="crispEdges"/>
<g fill="#A0522D" shape-rendering="crispEdges"><rect x="0" y="194" width="8" height="1"/><rect x="11" y="194" width="3" height="1"/><rect x="17" y="194" width="3" height="1"/><rect x="23" y="194" width="9" height="1"/><rect x="35" y="194" width="3" height="1"/><rect x="41" y="194" width="3" height="1"/><rect x="47" y="194" width="9" height="1"/><rect x="59" y="194" width="3" height="1"/><rect x="65" y="194" width="3" height="1"/><rect x="71" y="194" width="9" height="1"/><rect x="83" y="194" width="3" height="1"/><rect x="89" y="194" width="3" height="1"/><rect x="95" y="194" width="9" height="1"/><rect x="107" y="194" width="3" height="1"/><rect x="113" y="194" width="3" height="1"/><rect x="119" y="194" width="9" height="1"/><rect x="131" y="194" width="3" height="1"/><rect x="137" y="194" width="3" height="1"/><rect x="143" y="194" width="9" height="1"/><rect x="155" y="194" width="3" height="1"/><rect x="161" y="194" width="3" height="1"/><rect x="167" y="194" width="9" height="1"/><rect x="179" y="194" width="3" height="1"/><rect x="185" y="194" width="3" height="1"/><rect x="191" y="194" width="9" height="1"/><rect x="203" y="194" width="3" height="1"/><rect x="209" y="194" width="3" height="1"/><rect x="215" y="194" width="9" height="1"/><rect x="227" y="194" width="3" height="1"/><rect x="233" y="194" width="3" height="1"/><rect x="239" y="194" width="9" height="1"/><rect x="251" y="194" width="3" height="1"/><rect x="257" y="194" width="3" height="1"/><rect x="263" y="194" width="9" height="1"/><rect x="275" y="194" width="3" height="1"/><rect x="281" y="194" width="3" height="1"/><rect x="287" y="194" width="9" height="1"/><rect x="299" y="194" width="3" height="1"/><rect x="305" y="194" width="3" height="1"/><rect x="311" y="194" width="9" height="1"/><rect x="323" y="194" width="3" height="1"/><rect x="329" y="194" width="3" height="1"/><rect x="335" y="194" width="9" height="1"/><rect x="347" y="194" width="3" height="1"/><rect x="353" y="194" width="3" height="1"/><rect x="359" y="194" width="9" height="1"/><rect x="371" y="194" width="3" height="1"/><rect x="377" y="194" width="3" height="1"/><rect x="383" y="194" width="9" height="1"/><rect x="395" y="194" width="3" height="1"/><rect x="401" y="194" width="3" height="1"/><rect x="407" y="194" width="9" height="1"/><rect x="419" y="194" width="3" height="1"/><rect x="425" y="194" width="3" height="1"/><rect x="431" y="194" width="9" height="1"/><rect x="443" y="194" width="3" height="1"/><rect x="449" y="194" width="3" height="1"/><rect x="455" y="194" width="9" height="1"/><rect x="467" y="194" width="3" height="1"/><rect x="473" y="194" width="3" height="1"/><rect x="479" y="194" width="9" height="1"/><rect x="491" y="194" width="3" height="1"/><rect x="497" y="194" width="3" height="1"/><rect x="503" y="194" width="9" height="1"/><rect x="515" y="194" width="3" height="1"/><rect x="521" y="194" width="3" height="1"/><rect x="527" y="194" width="9" height="1"/><rect x="539" y="194" width="3" height="1"/><rect x="545" y="194" width="3" height="1"/><rect x="551" y="194" width="9" height="1"/><rect x="563" y="194" width="3" height="1"/><rect x="569" y="194" width="3" height="1"/><rect x="575" y="194" width="9" height="1"/><rect x="587" y="194" width="3" height="1"/><rect x="593" y="194" width="3" height="1"/><rect x="599" y="194" width="9" height="1"/><rect x="611" y="194" width="3" height="1"/><rect x="617" y="194" width="3" height="1"/><rect x="623" y="194" width="9" height="1"/><rect x="635" y="194" width="3" height="1"/><rect x="641" y="194" width="3" height="1"/><rect x="647" y="194" width="9" height="1"/><rect x="659" y="194" width="3" height="1"/><rect x="665" y="194" width="3" height="1"/><rect x="671" y="194" width="9" height="1"/><rect x="683" y="194" width="3" height="1"/><rect x="689" y="194" width="3" height="1"/><rect x="695" y="194" width="9" height="1"/><rect x="707" y="194" width="3" height="1"/><rect x="713" y="194" width="3" height="1"/><rect x="719" y="194" width="9" height="1"/><rect x="731" y="194" width="3" height="1"/><rect x="737" y="194" width="3" height="1"/><rect x="743" y="194" width="9" height="1"/><rect x="755" y="194" width="3" height="1"/><rect x="761" y="194" width="3" height="1"/><rect x="767" y="194" width="9" height="1"/><rect x="779" y="194" width="3" height="1"/><rect x="785" y="194" width="3" height="1"/><rect x="791" y="194" width="9" height="1"/><rect x="803" y="194" width="3" height="1"/><rect x="809" y="194" width="3" height="1"/><rect x="815" y="194" width="9" height="1"/><rect x="827" y="194" width="3" height="1"/><rect x="833" y="194" width="3" height="1"/><rect x="839" y="194" width="9" height="1"/><rect x="851" y="194" width="3" height="1"/><rect x="857" y="194" width="3" height="1"/><rect x="863" y="194" width="9" height="1"/><rect x="875" y="194" width="3" height="1"/><rect x="881" y="194" width="3" height="1"/><rect x="887" y="194" width="9" height="1"/><rect x="899" y="194" width="3" height="1"/><rect x="905" y="194" width="3" height="1"/><rect x="911" y="194" width="9" height="1"/><rect x="923" y="194" width="3" height="1"/><rect x="929" y="194" width="3" height="1"/><rect x="935" y="194" width="9" height="1"/><rect x="947" y="194" width="3" height="1"/><rect x="953" y="194" width="3" height="1"/><rect x="959" y="194" width="9" height="1"/><rect x="971" y="194" width="3" height="1"/><rect x="977" y="194" width="3" height="1"/><rect x="983" y="194" width="9" height="1"/><rect x="995" y="194" width="3" height="1"/><rect x="1001" y="194" width="3" height="1"/><rect x="1007" y="194" width="9" height="1"/><rect x="1019" y="194" width="3" height="1"/><rect x="1025" y="194" width="3" height="1"/><rect x="1031" y="194" width="9" height="1"/><rect x="1043" y="194" width="3" height="1"/><rect x="1049" y="194" width="3" height="1"/><rect x="1055" y="194" width="9" height="1"/><rect x="1067" y="194" width="3" height="1"/><rect x="1073" y="194" width="3" height="1"/><rect x="1079" y="194" width="9" height="1"/><rect x="1091" y="194" width="3" height="1"/><rect x="1097" y="194" width="3" height="1"/><rect x="1103" y="194" width="9" height="1"/><rect x="1115" y="194" width="3" height="1"/><rect x="1121" y="194" width="3" height="1"/><rect x="1127" y="194" width="9" height="1"/><rect x="1139" y="194" width="3" height="1"/><rect x="1145" y="194" width="3" height="1"/><rect x="1151" y="194" width="9" height="1"/><rect x="1163" y="194" width="3" height="1"/><rect x="1169" y="194" width="3" height="1"/></g>
<g fill="#A0522D" shape-rendering="crispEdges"><rect x="0" y="211" width="8" height="1"/><rect x="11" y="211" width="3" height="1"/><rect x="17" y="211" width="3" height="1"/><rect x="23" y="211" width="9" height="1"/><rect x="35" y="211" width="3" height="1"/><rect x="41" y="211" width="3" height="1"/><rect x="47" y="211" width="9" height="1"/><rect x="59" y="211" width="3" height="1"/><rect x="65" y="211" width="3" height="1"/><rect x="71" y="211" width="9" height="1"/><rect x="83" y="211" width="3" height="1"/><rect x="89" y="211" width="3" height="1"/><rect x="95" y="211" width="9" height="1"/><rect x="107" y="211" width="3" height="1"/><rect x="113" y="211" width="3" height="1"/><rect x="119" y="211" width="9" height="1"/><rect x="131" y="211" width="3" height="1"/><rect x="137" y="211" width="3" height="1"/><rect x="143" y="211" width="9" height="1"/><rect x="155" y="211" width="3" height="1"/><rect x="161" y="211" width="3" height="1"/><rect x="167" y="211" width="9" height="1"/><rect x="179" y="211" width="3" height="1"/><rect x="185" y="211" width="3" height="1"/><rect x="191" y="211" width="9" height="1"/><rect x="203" y="211" width="3" height="1"/><rect x="209" y="211" width="3" height="1"/><rect x="215" y="211" width="9" height="1"/><rect x="227" y="211" width="3" height="1"/><rect x="233" y="211" width="3" height="1"/><rect x="239" y="211" width="9" height="1"/><rect x="251" y="211" width="3" height="1"/><rect x="257" y="211" width="3" height="1"/><rect x="263" y="211" width="9" height="1"/><rect x="275" y="211" width="3" height="1"/><rect x="281" y="211" width="3" height="1"/><rect x="287" y="211" width="9" height="1"/><rect x="299" y="211" width="3" height="1"/><rect x="305" y="211" width="3" height="1"/><rect x="311" y="211" width="9" height="1"/><rect x="323" y="211" width="3" height="1"/><rect x="329" y="211" width="3" height="1"/><rect x="335" y="211" width="9" height="1"/><rect x="347" y="211" width="3" height="1"/><rect x="353" y="211" width="3" height="1"/><rect x="359" y="211" width="9" height="1"/><rect x="371" y="211" width="3" height="1"/><rect x="377" y="211" width="3" height="1"/><rect x="383" y="211" width="9" height="1"/><rect x="395" y="211" width="3" height="1"/><rect x="401" y="211" width="3" height="1"/><rect x="407" y="211" width="9" height="1"/><rect x="419" y="211" width="3" height="1"/><rect x="425" y="211" width="3" height="1"/><rect x="431" y="211" width="9" height="1"/><rect x="443" y="211" width="3" height="1"/><rect x="449" y="211" width="3" height="1"/><rect x="455" y="211" width="9" height="1"/><rect x="467" y="211" width="3" height="1"/><rect x="473" y="211" width="3" height="1"/><rect x="479" y="211" width="9" height="1"/><rect x="491" y="211" width="3" height="1"/><rect x="497" y="211" width="3" height="1"/><rect x="503" y="211" width="9" height="1"/><rect x="515" y="211" width="3" height="1"/><rect x="521" y="211" width="3" height="1"/><rect x="527" y="211" width="9" height="1"/><rect x="539" y="211" width="3" height="1"/><rect x="545" y="211" width="3" height="1"/><rect x="551" y="211" width="9" height="1"/><rect x="563" y="211" width="3" height="1"/><rect x="569" y="211" width="3" height="1"/><rect x="575" y="211" width="9" height="1"/><rect x="587" y="211" width="3" height="1"/><rect x="593" y="211" width="3" height="1"/><rect x="599" y="211" width="9" height="1"/><rect x="611" y="211" width="3" height="1"/><rect x="617" y="211" width="3" height="1"/><rect x="623" y="211" width="9" height="1"/><rect x="635" y="211" width="3" height="1"/><rect x="641" y="211" width="3" height="1"/><rect x="647" y="211" width="9" height="1"/><rect x="659" y="211" width="3" height="1"/><rect x="665" y="211" width="3" height="1"/><rect x="671" y="211" width="9" height="1"/><rect x="683" y="211" width="3" height="1"/><rect x="689" y="211" width="3" height="1"/><rect x="695" y="211" width="9" height="1"/><rect x="707" y="211" width="3" height="1"/><rect x="713" y="211" width="3" height="1"/><rect x="719" y="211" width="9" height="1"/><rect x="731" y="211" width="3" height="1"/><rect x="737" y="211" width="3" height="1"/><rect x="743" y="211" width="9" height="1"/><rect x="755" y="211" width="3" height="1"/><rect x="761" y="211" width="3" height="1"/><rect x="767" y="211" width="9" height="1"/><rect x="779" y="211" width="3" height="1"/><rect x="785" y="211" width="3" height="1"/><rect x="791" y="211" width="9" height="1"/><rect x="803" y="211" width="3" height="1"/><rect x="809" y="211" width="3" height="1"/><rect x="815" y="211" width="9" height="1"/><rect x="827" y="211" width="3" height="1"/><rect x="833" y="211" width="3" height="1"/><rect x="839" y="211" width="9" height="1"/><rect x="851" y="211" width="3" height="1"/><rect x="857" y="211" width="3" height="1"/><rect x="863" y="211" width="9" height="1"/><rect x="875" y="211" width="3" height="1"/><rect x="881" y="211" width="3" height="1"/><rect x="887" y="211" width="9" height="1"/><rect x="899" y="211" width="3" height="1"/><rect x="905" y="211" width="3" height="1"/><rect x="911" y="211" width="9" height="1"/><rect x="923" y="211" width="3" height="1"/><rect x="929" y="211" width="3" height="1"/><rect x="935" y="211" width="9" height="1"/><rect x="947" y="211" width="3" height="1"/><rect x="953" y="211" width="3" height="1"/><rect x="959" y="211" width="9" height="1"/><rect x="971" y="211" width="3" height="1"/><rect x="977" y="211" width="3" height="1"/><rect x="983" y="211" width="9" height="1"/><rect x="995" y="211" width="3" height="1"/><rect x="1001" y="211" width="3" height="1"/><rect x="1007" y="211" width="9" height="1"/><rect x="1019" y="211" width="3" height="1"/><rect x="1025" y="211" width="3" height="1"/><rect x="1031" y="211" width="9" height="1"/><rect x="1043" y="211" width="3" height="1"/><rect x="1049" y="211" width="3" height="1"/><rect x="1055" y="211" width="9" height="1"/><rect x="1067" y="211" width="3" height="1"/><rect x="1073" y="211" width="3" height="1"/><rect x="1079" y="211" width="9" height="1"/><rect x="1091" y="211" width="3" height="1"/><rect x="1097" y="211" width="3" height="1"/><rect x="1103" y="211" width="9" height="1"/><rect x="1115" y="211" width="3" height="1"/><rect x="1121" y="211" width="3" height="1"/><rect x="1127" y="211" width="9" height="1"/><rect x="1139" y="211" width="3" height="1"/><rect x="1145" y="211" width="3" height="1"/><rect x="1151" y="211" width="9" height="1"/><rect x="1163" y="211" width="3" height="1"/><rect x="1169" y="211" width="3" height="1"/></g>
<g fill="#A0522D" shape-rendering="crispEdges"><rect x="0" y="222" width="8" height="1"/><rect x="11" y="222" width="3" height="1"/><rect x="17" y="222" width="3" height="1"/><rect x="23" y="222" width="9" height="1"/><rect x="35" y="222" width="3" height="1"/><rect x="41" y="222" width="3" height="1"/><rect x="47" y="222" width="9" height="1"/><rect x="59" y="222" width="3" height="1"/><rect x="65" y="222" width="3" height="1"/><rect x="71" y="222" width="9" height="1"/><rect x="83" y="222" width="3" height="1"/><rect x="89" y="222" width="3" height="1"/><rect x="95" y="222" width="9" height="1"/><rect x="107" y="222" width="3" height="1"/><rect x="113" y="222" width="3" height="1"/><rect x="119" y="222" width="9" height="1"/><rect x="131" y="222" width="3" height="1"/><rect x="137" y="222" width="3" height="1"/><rect x="143" y="222" width="9" height="1"/><rect x="155" y="222" width="3" height="1"/><rect x="161" y="222" width="3" height="1"/><rect x="167" y="222" width="9" height="1"/><rect x="179" y="222" width="3" height="1"/><rect x="185" y="222" width="3" height="1"/><rect x="191" y="222" width="9" height="1"/><rect x="203" y="222" width="3" height="1"/><rect x="209" y="222" width="3" height="1"/><rect x="215" y="222" width="9" height="1"/><rect x="227" y="222" width="3" height="1"/><rect x="233" y="222" width="3" height="1"/><rect x="239" y="222" width="9" height="1"/><rect x="251" y="222" width="3" height="1"/><rect x="257" y="222" width="3" height="1"/><rect x="263" y="222" width="9" height="1"/><rect x="275" y="222" width="3" height="1"/><rect x="281" y="222" width="3" height="1"/><rect x="287" y="222" width="9" height="1"/><rect x="299" y="222" width="3" height="1"/><rect x="305" y="222" width="3" height="1"/><rect x="311" y="222" width="9" height="1"/><rect x="323" y="222" width="3" height="1"/><rect x="329" y="222" width="3" height="1"/><rect x="335" y="222" width="9" height="1"/><rect x="347" y="222" width="3" height="1"/><rect x="353" y="222" width="3" height="1"/><rect x="359" y="222" width="9" height="1"/><rect x="371" y="222" width="3" height="1"/><rect x="377" y="222" width="3" height="1"/><rect x="383" y="222" width="9" height="1"/><rect x="395" y="222" width="3" height="1"/><rect x="401" y="222" width="3" height="1"/><rect x="407" y="222" width="9" height="1"/><rect x="419" y="222" width="3" height="1"/><rect x="425" y="222" width="3" height="1"/><rect x="431" y="222" width="9" height="1"/><rect x="443" y="222" width="3" height="1"/><rect x="449" y="222" width="3" height="1"/><rect x="455" y="222" width="9" height="1"/><rect x="467" y="222" width="3" height="1"/><rect x="473" y="222" width="3" height="1"/><rect x="479" y="222" width="9" height="1"/><rect x="491" y="222" width="3" height="1"/><rect x="497" y="222" width="3" height="1"/><rect x="503" y="222" width="9" height="1"/><rect x="515" y="222" width="3" height="1"/><rect x="521" y="222" width="3" height="1"/><rect x="527" y="222" width="9" height="1"/><rect x="539" y="222" width="3" height="1"/><rect x="545" y="222" width="3" height="1"/><rect x="551" y="222" width="9" height="1"/><rect x="563" y="222" width="3" height="1"/><rect x="569" y="222" width="3" height="1"/><rect x="575" y="222" width="9" height="1"/><rect x="587" y="222" width="3" height="1"/><rect x="593" y="222" width="3" height="1"/><rect x="599" y="222" width="9" height="1"/><rect x="611" y="222" width="3" height="1"/><rect x="617" y="222" width="3" height="1"/><rect x="623" y="222" width="9" height="1"/><rect x="635" y="222" width="3" height="1"/><rect x="641" y="222" width="3" height="1"/><rect x="647" y="222" width="9" height="1"/><rect x="659" y="222" width="3" height="1"/><rect x="665" y="222" width="3" height="1"/><rect x="671" y="222" width="9" height="1"/><rect x="683" y="222" width="3" height="1"/><rect x="689" y="222" width="3" height="1"/><rect x="695" y="222" width="9" height="1"/><rect x="707" y="222" width="3" height="1"/><rect x="713" y="222" width="3" height="1"/><rect x="719" y="222" width="9" height="1"/><rect x="731" y="222" width="3" height="1"/><rect x="737" y="222" width="3" height="1"/><rect x="743" y="222" width="9" height="1"/><rect x="755" y="222" width="3" height="1"/><rect x="761" y="222" width="3" height="1"/><rect x="767" y="222" width="9" height="1"/><rect x="779" y="222" width="3" height="1"/><rect x="785" y="222" width="3" height="1"/><rect x="791" y="222" width="9" height="1"/><rect x="803" y="222" width="3" height="1"/><rect x="809" y="222" width="3" height="1"/><rect x="815" y="222" width="9" height="1"/><rect x="827" y="222" width="3" height="1"/><rect x="833" y="222" width="3" height="1"/><rect x="839" y="222" width="9" height="1"/><rect x="851" y="222" width="3" height="1"/><rect x="857" y="222" width="3" height="1"/><rect x="863" y="222" width="9" height="1"/><rect x="875" y="222" width="3" height="1"/><rect x="881" y="222" width="3" height="1"/><rect x="887" y="222" width="9" height="1"/><rect x="899" y="222" width="3" height="1"/><rect x="905" y="222" width="3" height="1"/><rect x="911" y="222" width="9" height="1"/><rect x="923" y="222" width="3" height="1"/><rect x="929" y="222" width="3" height="1"/><rect x="935" y="222" width="9" height="1"/><rect x="947" y="222" width="3" height="1"/><rect x="953" y="222" width="3" height="1"/><rect x="959" y="222" width="9" height="1"/><rect x="971" y="222" width="3" height="1"/><rect x="977" y="222" width="3" height="1"/><rect x="983" y="222" width="9" height="1"/><rect x="995" y="222" width="3" height="1"/><rect x="1001" y="222" width="3" height="1"/><rect x="1007" y="222" width="9" height="1"/><rect x="1019" y="222" width="3" height="1"/><rect x="1025" y="222" width="3" height="1"/><rect x="1031" y="222" width="9" height="1"/><rect x="1043" y="222" width="3" height="1"/><rect x="1049" y="222" width="3" height="1"/><rect x="1055" y="222" width="9" height="1"/><rect x="1067" y="222" width="3" height="1"/><rect x="1073" y="222" width="3" height="1"/><rect x="1079" y="222" width="9" height="1"/><rect x="1091" y="222" width="3" height="1"/><rect x="1097" y="222" width="3" height="1"/><rect x="1103" y="222" width="9" height="1"/><rect x="1115" y="222" width="3" height="1"/><rect x="1121" y="222" width="3" height="1"/><rect x="1127" y="222" width="9" height="1"/><rect x="1139" y="222" width="3" height="1"/><rect x="1145" y="222" width="3" height="1"/><rect x="1151" y="222" width="9" height="1"/><rect x="1163" y="222" width="3" height="1"/><rect x="1169" y="222" width="3" height="1"/></g>
<g fill="#A0522D" shape-rendering="crispEdges"><rect x="0" y="256" width="8" height="1"/><rect x="11" y="256" width="3" height="1"/><rect x="17" y="256" width="3" height="1"/><rect x="23" y="256" width="9" height="1"/><rect x="35" y="256" width="3" height="1"/><rect x="41" y="256" width="3" height="1"/><rect x="47" y="256" width="9" height="1"/><rect x="59" y="256" width="3" height="1"/><rect x="65" y="256" width="3" height="1"/><rect x="71" y="256" width="9" height="1"/><rect x="83" y="256" width="3" height="1"/><rect x="89" y="256" width="3" height="1"/><rect x="95" y="256" width="9" height="1"/><rect x="107" y="256" width="3" height="1"/><rect x="113" y="256" width="3" height="1"/><rect x="119" y="256" width="9" height="1"/><rect x="131" y="256" width="3" height="1"/><rect x="137" y="256" width="3" height="1"/><rect x="143" y="256" width="9" height="1"/><rect x="155" y="256" width="3" height="1"/><rect x="161" y="256" width="3" height="1"/><rect x="167" y="256" width="9" height="1"/><rect x="179" y="256" width="3" height="1"/><rect x="185" y="256" width="3" height="1"/><rect x="191" y="256" width="9" height="1"/><rect x="203" y="256" width="3" height="1"/><rect x="209" y="256" width="3" height="1"/><rect x="215" y="256" width="9" height="1"/><rect x="227" y="256" width="3" height="1"/><rect x="233" y="256" width="3" height="1"/><rect x="239" y="256" width="9" height="1"/><rect x="251" y="256" width="3" height="1"/><rect x="257" y="256" width="3" height="1"/><rect x="263" y="256" width="9" height="1"/><rect x="275" y="256" width="3" height="1"/><rect x="281" y="256" width="3" height="1"/><rect x="287" y="256" width="9" height="1"/><rect x="299" y="256" width="3" height="1"/><rect x="305" y="256" width="3" height="1"/><rect x="311" y="256" width="9" height="1"/><rect x="323" y="256" width="3" height="1"/><rect x="329" y="256" width="3" height="1"/><rect x="335" y="256" width="9" height="1"/><rect x="347" y="256" width="3" height="1"/><rect x="353" y="256" width="3" height="1"/><rect x="359" y="256" width="9" height="1"/><rect x="371" y="256" width="3" height="1"/><rect x="377" y="256" width="3" height="1"/><rect x="383" y="256" width="9" height="1"/><rect x="395" y="256" width="3" height="1"/><rect x="401" y="256" width="3" height="1"/><rect x="407" y="256" width="9" height="1"/><rect x="419" y="256" width="3" height="1"/><rect x="425" y="256" width="3" height="1"/><rect x="431" y="256" width="9" height="1"/><rect x="443" y="256" width="3" height="1"/><rect x="449" y="256" width="3" height="1"/><rect x="455" y="256" width="9" height="1"/><rect x="467" y="256" width="3" height="1"/><rect x="473" y="256" width="3" height="1"/><rect x="479" y="256" width="9" height="1"/><rect x="491" y="256" width="3" height="1"/><rect x="497" y="256" width="3" height="1"/><rect x="503" y="256" width="9" height="1"/><rect x="515" y="256" width="3" height="1"/><rect x="521" y="256" width="3" height="1"/><rect x="527" y="256" width="9" height="1"/><rect x="539" y="256" width="3" height="1"/><rect x="545" y="256" width="3" height="1"/><rect x="551" y="256" width="9" height="1"/><rect x="563" y="256" width="3" height="1"/><rect x="569" y="256" width="3" height="1"/><rect x="575" y="256" width="9" height="1"/><rect x="587" y="256" width="3" height="1"/><rect x="593" y="256" width="3" height="1"/><rect x="599" y="256" width="9" height="1"/><rect x="611" y="256" width="3" height="1"/><rect x="617" y="256" width="3" height="1"/><rect x="623" y="256" width="9" height="1"/><rect x="635" y="256" width="3" height="1"/><rect x="641" y="256" width="3" height="1"/><rect x="647" y="256" width="9" height="1"/><rect x="659" y="256" width="3" height="1"/><rect x="665" y="256" width="3" height="1"/><rect x="671" y="256" width="9" height="1"/><rect x="683" y="256" width="3" height="1"/><rect x="689" y="256" width="3" height="1"/><rect x="695" y="256" width="9" height="1"/><rect x="707" y="256" width="3" height="1"/><rect x="713" y="256" width="3" height="1"/><rect x="719" y="256" width="9" height="1"/><rect x="731" y="256" width="3" height="1"/><rect x="737" y="256" width="3" height="1"/><rect x="743" y="256" width="9" height="1"/><rect x="755" y="256" width="3" height="1"/><rect x="761" y="256" width="3" height="1"/><rect x="767" y="256" width="9" height="1"/><rect x="779" y="256" width="3" height="1"/><rect x="785" y="256" width="3" height="1"/><rect x="791" y="256" width="9" height="1"/><rect x="803" y="256" width="3" height="1"/><rect x="809" y="256" width="3" height="1"/><rect x="815" y="256" width="9" height="1"/><rect x="827" y="256" width="3" height="1"/><rect x="833" y="256" width="3" height="1"/><rect x="839" y="256" width="9" height="1"/><rect x="851" y="256" width="3" height="1"/><rect x="857" y="256" width="3" height="1"/><rect x="863" y="256" width="9" height="1"/><rect x="875" y="256" width="3" height="1"/><rect x="881" y="256" width="3" height="1"/><rect x="887" y="256" width="9" height="1"/><rect x="899" y="256" width="3" height="1"/><rect x="905" y="256" width="3" height="1"/><rect x="911" y="256" width="9" height="1"/><rect x="923" y="256" width="3" height="1"/><rect x="929" y="256" width="3" height="1"/><rect x="935" y="256" width="9" height="1"/><rect x="947" y="256" width="3" height="1"/><rect x="953" y="256" width="3" height="1"/><rect x="959" y="256" width="9" height="1"/><rect x="971" y="256" width="3" height="1"/><rect x="977" y="256" width="3" height="1"/><rect x="983" y="256" width="9" height="1"/><rect x="995" y="256" width="3" height="1"/><rect x="1001" y="256" width="3" height="1"/><rect x="1007" y="256" width="9" height="1"/><rect x="1019" y="256" width="3" height="1"/><rect x="1025" y="256" width="3" height="1"/><rect x="1031" y="256" width="9" height="1"/><rect x="1043" y="256" width="3" height="1"/><rect x="1049" y="256" width="3" height="1"/><rect x="1055" y="256" width="9" height="1"/><rect x="1067" y="256" width="3" height="1"/><rect x="1073" y="256" width="3" height="1"/><rect x="1079" y="256" width="9" height="1"/><rect x="1091" y="256" width="3" height="1"/><rect x="1097" y="256" width="3" height="1"/><rect x="1103" y="256" width="9" height="1"/><rect x="1115" y="256" width="3" height="1"/><rect x="1121" y="256" width="3" height="1"/><rect x="1127" y="256" width="9" height="1"/><rect x="1139" y="256" width="3" height="1"/><rect x="1145" y="256" width="3" height="1"/><rect x="1151" y="256" width="9" height="1"/><rect x="1163" y="256" width="3" height="1"/><rect x="1169" y="256" width="3" height="1"/></g>
<g fill="#A0522D" shape-rendering="crispEdges"><rect x="0" y="267" width="8" height="1"/><rect x="11" y="267" width="3" height="1"/><rect x="17" y="267" width="3" height="1"/><rect x="23" y="267" width="9" height="1"/><rect x="35" y="267" width="3" height="1"/><rect x="41" y="267" width="3" height="1"/><rect x="47" y="267" width="9" height="1"/><rect x="59" y="267" width="3" height="1"/><rect x="65" y="267" width="3" height="1"/><rect x="71" y="267" width="9" height="1"/><rect x="83" y="267" width="3" height="1"/><rect x="89" y="267" width="3" height="1"/><rect x="95" y="267" width="9" height="1"/><rect x="107" y="267" width="3" height="1"/><rect x="113" y="267" width="3" height="1"/><rect x="119" y="267" width="9" height="1"/><rect x="131" y="267" width="3" height="1"/><rect x="137" y="267" width="3" height="1"/><rect x="143" y="267" width="9" height="1"/><rect x="155" y="267" width="3" height="1"/><rect x="161" y="267" width="3" height="1"/><rect x="167" y="267" width="9" height="1"/><rect x="179" y="267" width="3" height="1"/><rect x="185" y="267" width="3" height="1"/><rect x="191" y="267" width="9" height="1"/><rect x="203" y="267" width="3" height="1"/><rect x="209" y="267" width="3" height="1"/><rect x="215" y="267" width="9" height="1"/><rect x="227" y="267" width="3" height="1"/><rect x="233" y="267" width="3" height="1"/><rect x="239" y="267" width="9" height="1"/><rect x="251" y="267" width="3" height="1"/><rect x="257" y="267" width="3" height="1"/><rect x="263" y="267" width="9" height="1"/><rect x="275" y="267" width="3" height="1"/><rect x="281" y="267" width="3" height="1"/><rect x="287" y="267" width="9" height="1"/><rect x="299" y="267" width="3" height="1"/><rect x="305" y="267" width="3" height="1"/><rect x="311" y="267" width="9" height="1"/><rect x="323" y="267" width="3" height="1"/><rect x="329" y="267" width="3" height="1"/><rect x="335" y="267" width="9" height="1"/><rect x="347" y="267" width="3" height="1"/><rect x="353" y="267" width="3" height="1"/><rect x="359" y="267" width="9" height="1"/><rect x="371" y="267" width="3" height="1"/><rect x="377" y="267" width="3" height="1"/><rect x="383" y="267" width="9" height="1"/><rect x="395" y="267" width="3" height="1"/><rect x="401" y="267" width="3" height="1"/><rect x="407" y="267" width="9" height="1"/><rect x="419" y="267" width="3" height="1"/><rect x="425" y="267" width="3" height="1"/><rect x="431" y="267" width="9" height="1"/><rect x="443" y="267" width="3" height="1"/><rect x="449" y="267" width="3" height="1"/><rect x="455" y="267" width="9" height="1"/><rect x="467" y="267" width="3" height="1"/><rect x="473" y="267" width="3" height="1"/><rect x="479" y="267" width="9" height="1"/><rect x="491" y="267" width="3" height="1"/><rect x="497" y="267" width="3" height="1"/><rect x="503" y="267" width="9" height="1"/><rect x="515" y="267" width="3" height="1"/><rect x="521" y="267" width="3" height="1"/><rect x="527" y="267" width="9" height="1"/><rect x="539" y="267" width="3" height="1"/><rect x="545" y="267" width="3" height="1"/><rect x="551" y="267" width="9" height="1"/><rect x="563" y="267" width="3" height="1"/><rect x="569" y="267" width="3" height="1"/><rect x="575" y="267" width="9" height="1"/><rect x="587" y="267" width="3" height="1"/><rect x="593" y="267" width="3" height="1"/><rect x="599" y="267" width="9" height="1"/><rect x="611" y="267" width="3" height="1"/><rect x="617" y="267" width="3" height="1"/><rect x="623" y="267" width="9" height="1"/><rect x="635" y="267" width="3" height="1"/><rect x="641" y="267" width="3" height="1"/><rect x="647" y="267" width="9" height="1"/><rect x="659" y="267" width="3" height="1"/><rect x="665" y="267" width="3" height="1"/><rect x="671" y="267" width="9" height="1"/><rect x="683" y="267" width="3" height="1"/><rect x="689" y="267" width="3" height="1"/><rect x="695" y="267" width="9" height="1"/><rect x="707" y="267" width="3" height="1"/><rect x="713" y="267" width="3" height="1"/><rect x="719" y="267" width="9" height="1"/><rect x="731" y="267" width="3" height="1"/><rect x="737" y="267" width="3" height="1"/><rect x="743" y="267" width="9" height="1"/><rect x="755" y="267" width="3" height="1"/><rect x="761" y="267" width="3" height="1"/><rect x="767" y="267" width="9" height="1"/><rect x="779" y="267" width="3" height="1"/><rect x="785" y="267" width="3" height="1"/><rect x="791" y="267" width="9" height="1"/><rect x="803" y="267" width="3" height="1"/><rect x="809" y="267" width="3" height="1"/><rect x="815" y="267" width="9" height="1"/><rect x="827" y="267" width="3" height="1"/><rect x="833" y="267" width="3" height="1"/><rect x="839" y="267" width="9" height="1"/><rect x="851" y="267" width="3" height="1"/><rect x="857" y="267" width="3" height="1"/><rect x="863" y="267" width="9" height="1"/><rect x="875" y="267" width="3" height="1"/><rect x="881" y="267" width="3" height="1"/><rect x="887" y="267" width="9" height="1"/><rect x="899" y="267" width="3" height="1"/><rect x="905" y="267" width="3" height="1"/><rect x="911" y="267" width="9" height="1"/><rect x="923" y="267" width="3" height="1"/><rect x="929" y="267" width="3" height="1"/><rect x="935" y="267" width="9" height="1"/><rect x="947" y="267" width="3" height="1"/><rect x="953" y="267" width="3" height="1"/><rect x="959" y="267" width="9" height="1"/><rect x="971" y="267" width="3" height="1"/><rect x="977" y="267" width="3" height="1"/><rect x="983" y="267" width="9" height="1"/><rect x="995" y="267" width="3" height="1"/><rect x="1001" y="267" width="3" height="1"/><rect x="1007" y="267" width="9" height="1"/><rect x="1019" y="267" width="3" height="1"/><rect x="1025" y="267" width="3" height="1"/><rect x="1031" y="267" width="9" height="1"/><rect x="1043" y="267" width="3" height="1"/><rect x="1049" y="267" width="3" height="1"/><rect x="1055" y="267" width="9" height="1"/><rect x="1067" y="267" width="3" height="1"/><rect x="1073" y="267" width="3" height="1"/><rect x="1079" y="267" width="9" height="1"/><rect x="1091" y="267" width="3" height="1"/><rect x="1097" y="267" width="3" height="1"/><rect x="1103" y="267" width="9" height="1"/><rect x="1115" y="267" width="3" height="1"/><rect x="1121" y="267" width="3" height="1"/><rect x="1127" y="267" width="9" height="1"/><rect x="1139" y="267" width="3" height="1"/><rect x="1145" y="267" width="3" height="1"/><rect x="1151" y="267" width="9" height="1"/><rect x="1163" y="267" width="3" height="1"/><rect x="1169" y="267" width="3" height="1"/></g>
<g fill="#A0522D" shape-rendering="crispEdges"><rect x="0" y="283" width="8" height="1"/><rect x="11" y="283" width="3" height="1"/><rect x="17" y="283" width="3" height="1"/><rect x="23" y="283" width="9" height="1"/><rect x="35" y="283" width="3" height="1"/><rect x="41" y="283" width="3" height="1"/><rect x="47" y="283" width="9" height="1"/><rect x="59" y="283" width="3" height="1"/><rect x="65" y="283" width="3" height="1"/><rect x="71" y="283" width="9" height="1"/><rect x="83" y="283" width="3" height="1"/><rect x="89" y="283" width="3" height="1"/><rect x="95" y="283" width="9" height="1"/><rect x="107" y="283" width="3" height="1"/><rect x="113" y="283" width="3" height="1"/><rect x="119" y="283" width="9" height="1"/><rect x="131" y="283" width="3" height="1"/><rect x="137" y="283" width="3" height="1"/><rect x="143" y="283" width="9" height="1"/><rect x="155" y="283" width="3" height="1"/><rect x="161" y="283" width="3" height="1"/><rect x="167" y="283" width="9" height="1"/><rect x="179" y="283" width="3" height="1"/><rect x="185" y="283" width="3" height="1"/><rect x="191" y="283" width="9" height="1"/><rect x="203" y="283" width="3" height="1"/><rect x="209" y="283" width="3" height="1"/><rect x="215" y="283" width="9" height="1"/><rect x="227" y="283" width="3" height="1"/><rect x="233" y="283" width="3" height="1"/><rect x="239" y="283" width="9" height="1"/><rect x="251" y="283" width="3" height="1"/><rect x="257" y="283" width="3" height="1"/><rect x="263" y="283" width="9" height="1"/><rect x="275" y="283" width="3" height="1"/><rect x="281" y="283" width="3" height="1"/><rect x="287" y="283" width="9" height="1"/><rect x="299" y="283" width="3" height="1"/><rect x="305" y="283" width="3" height="1"/><rect x="311" y="283" width="9" height="1"/><rect x="323" y="283" width="3" height="1"/><rect x="329" y="283" width="3" height="1"/><rect x="335" y="283" width="9" height="1"/><rect x="347" y="283" width="3" height="1"/><rect x="353" y="283" width="3" height="1"/><rect x="359" y="283" width="9" height="1"/><rect x="371" y="283" width="3" height="1"/><rect x="377" y="283" width="3" height="1"/><rect x="383" y="283" width="9" height="1"/><rect x="395" y="283" width="3" height="1"/><rect x="401" y="283" width="3" height="1"/><rect x="407" y="283" width="9" height="1"/><rect x="419" y="283" width="3" height="1"/><rect x="425" y="283" width="3" height="1"/><rect x="431" y="283" width="9" height="1"/><rect x="443" y="283" width="3" height="1"/><rect x="449" y="283" width="3" height="1"/><rect x="455" y="283" width="9" height="1"/><rect x="467" y="283" width="3" height="1"/><rect x="473" y="283" width="3" height="1"/><rect x="479" y="283" width="9" height="1"/><rect x="491" y="283" width="3" height="1"/><rect x="497" y="283" width="3" height="1"/><rect x="503" y="283" width="9" height="1"/><rect x="515" y="283" width="3" height="1"/><rect x="521" y="283" width="3" height="1"/><rect x="527" y="283" width="9" height="1"/><rect x="539" y="283" width="3" height="1"/><rect x="545" y="283" width="3" height="1"/><rect x="551" y="283" width="9" height="1"/><rect x="563" y="283" width="3" height="1"/><rect x="569" y="283" width="3" height="1"/><rect x="575" y="283" width="9" height="1"/><rect x="587" y="283" width="3" height="1"/><rect x="593" y="283" width="3" height="1"/><rect x="599" y="283" width="9" height="1"/><rect x="611" y="283" width="3" height="1"/><rect x="617" y="283" width="3" height="1"/><rect x="623" y="283" width="9" height="1"/><rect x="635" y="283" width="3" height="1"/><rect x="641" y="283" width="3" height="1"/><rect x="647" y="283" width="9" height="1"/><rect x="659" y="283" width="3" height="1"/><rect x="665" y="283" width="3" height="1"/><rect x="671" y="283" width="9" height="1"/><rect x="683" y="283" width="3" height="1"/><rect x="689" y="283" width="3" height="1"/><rect x="695" y="283" width="9" height="1"/><rect x="707" y="283" width="3" height="1"/><rect x="713" y="283" width="3" height="1"/><rect x="719" y="283" width="9" height="1"/><rect x="731" y="283" width="3" height="1"/><rect x="737" y="283" width="3" height="1"/><rect x="743" y="283" width="9" height="1"/><rect x="755" y="283" width="3" height="1"/><rect x="761" y="283" width="3" height="1"/><rect x="767" y="283" width="9" height="1"/><rect x="779" y="283" width="3" height="1"/><rect x="785" y="283" width="3" height="1"/><rect x="791" y="283" width="9" height="1"/><rect x="803" y="283" width="3" height="1"/><rect x="809" y="283" width="3" height="1"/><rect x="815" y="283" width="9" height="1"/><rect x="827" y="283" width="3" height="1"/><rect x="833" y="283" width="3" height="1"/><rect x="839" y="283" width="9" height="1"/><rect x="851" y="283" width="3" height="1"/><rect x="857" y="283" width="3" height="1"/><rect x="863" y="283" width="9" height="1"/><rect x="875" y="283" width="3" height="1"/><rect x="881" y="283" width="3" height="1"/><rect x="887" y="283" width="9" height="1"/><rect x="899" y="283" width="3" height="1"/><rect x="905" y="283" width="3" height="1"/><rect x="911" y="283" width="9" height="1"/><rect x="923" y="283" width="3" height="1"/><rect x="929" y="283" width="3" height="1"/><rect x="935" y="283" width="9" height="1"/><rect x="947" y="283" width="3" height="1"/><rect x="953" y="283" width="3" height="1"/><rect x="959" y="283" width="9" height="1"/><rect x="971" y="283" width="3" height="1"/><rect x="977" y="283" width="3" height="1"/><rect x="983" y="283" width="9" height="1"/><rect x="995" y="283" width="3" height="1"/><rect x="1001" y="283" width="3" height="1"/><rect x="1007" y="283" width="9" height="1"/><rect x="1019" y="283" width="3" height="1"/><rect x="1025" y="283" width="3" height="1"/><rect x="1031" y="283" width="9" height="1"/><rect x="1043" y="283" width="3" height="1"/><rect x="1049" y="283" width="3" height="1"/><rect x="1055" y="283" width="9" height="1"/><rect x="1067" y="283" width="3" height="1"/><rect x="1073" y="283" width="3" height="1"/><rect x="1079" y="283" width="9" height="1"/><rect x="1091" y="283" width="3" height="1"/><rect x="1097" y="283" width="3" height="1"/><rect x="1103" y="283" width="9" height="1"/><rect x="1115" y="283" width="3" height="1"/><rect x="1121" y="283" width="3" height="1"/><rect x="1127" y="283" width="9" height="1"/><rect x="1139" y="283" width="3" height="1"/><rect x="1145" y="283" width="3" height="1"/><rect x="1151" y="283" width="9" height="1"/><rect x="1163" y="283" width="3" height="1"/><rect x="1169" y="283" width="3" height="1"/></g>
<g fill="#9ACD32" shape-rendering="crispEdges"><rect x="0" y="239" width="8" height="1"/><rect x="11" y="239" width="3" height="1"/><rect x="17" y="239" width="3" height="1"/><rect x="23" y="239" width="9" height="1"/><rect x="35" y="239" width="3" height="1"/><rect x="41" y="239" width="3" height="1"/><rect x="47" y="239" width="9" height="1"/><rect x="59" y="239" width="3" height="1"/><rect x="65" y="239" width="3" height="1"/><rect x="71" y="239" width="9" height="1"/><rect x="83" y="239" width="3" height="1"/><rect x="89" y="239" width="3" height="1"/><rect x="95" y="239" width="9" height="1"/><rect x="107" y="239" width="3" height="1"/><rect x="113" y="239" width="3" height="1"/><rect x="119" y="239" width="9" height="1"/><rect x="131" y="239" width="3" height="1"/><rect x="137" y="239" width="3" height="1"/><rect x="143" y="239" width="9" height="1"/><rect x="155" y="239" width="3" height="1"/><rect x="161" y="239" width="3" height="1"/><rect x="167" y="239" width="9" height="1"/><rect x="179" y="239" width="3" height="1"/><rect x="185" y="239" width="3" height="1"/><rect x="191" y="239" width="9" height="1"/><rect x="203" y="239" width="3" height="1"/><rect x="209" y="239" width="3" height="1"/><rect x="215" y="239" width="9" height="1"/><rect x="227" y="239" width="3" height="1"/><rect x="233" y="239" width="3" height="1"/><rect x="239" y="239" width="9" height="1"/><rect x="251" y="239" width="3" height="1"/><rect x="257" y="239" width="3" height="1"/><rect x="263" y="239" width="9" height="1"/><rect x="275" y="239" width="3" height="1"/><rect x="281" y="239" width="3" height="1"/><rect x="287" y="239" width="9" height="1"/><rect x="299" y="239" width="3" height="1"/><rect x="305" y="239" width="3" height="1"/><rect x="311" y="239" width="9" height="1"/><rect x="323" y="239" width="3" height="1"/><rect x="329" y="239" width="3" height="1"/><rect x="335" y="239" width="9" height="1"/><rect x="347" y="239" width="3" height="1"/><rect x="353" y="239" width="3" height="1"/><rect x="359" y="239" width="9" height="1"/><rect x="371" y="239" width="3" height="1"/><rect x="377" y="239" width="3" height="1"/><rect x="383" y="239" width="9" height="1"/><rect x="395" y="239" width="3" height="1"/><rect x="401" y="239" width="3" height="1"/><rect x="407" y="239" width="9" height="1"/><rect x="419" y="239" width="3" height="1"/><rect x="425" y="239" width="3" height="1"/><rect x="431" y="239" width="9" height="1"/><rect x="443" y="239" width="3" height="1"/><rect x="449" y="239" width="3" height="1"/><rect x="455" y="239" width="9" height="1"/><rect x="467" y="239" width="3" height="1"/><rect x="473" y="239" width="3" height="1"/><rect x="479" y="239" width="9" height="1"/><rect x="491" y="239" width="3" height="1"/><rect x="497" y="239" width="3" height="1"/><rect x="503" y="239" width="9" height="1"/><rect x="515" y="239" width="3" height="1"/><rect x="521" y="239" width="3" height="1"/><rect x="527" y="239" width="9" height="1"/><rect x="539" y="239" width="3" height="1"/><rect x="545" y="239" width="3" height="1"/><rect x="551" y="239" width="9" height="1"/><rect x="563" y="239" width="3" height="1"/><rect x="569" y="239" width="3" height="1"/><rect x="575" y="239" width="9" height="1"/><rect x="587" y="239" width="3" height="1"/><rect x="593" y="239" width="3" height="1"/><rect x="599" y="239" width="9" height="1"/><rect x="611" y="239" width="3" height="1"/><rect x="617" y="239" width="3" height="1"/><rect x="623" y="239" width="9" height="1"/><rect x="635" y="239" width="3" height="1"/><rect x="641" y="239" width="3" height="1"/><rect x="647" y="239" width="9" height="1"/><rect x="659" y="239" width="3" height="1"/><rect x="665" y="239" width="3" height="1"/><rect x="671" y="239" width="9" height="1"/><rect x="683" y="239" width="3" height="1"/><rect x="689" y="239" width="3" height="1"/><rect x="695" y="239" width="9" height="1"/><rect x="707" y="239" width="3" height="1"/><rect x="713" y="239" width="3" height="1"/><rect x="719" y="239" width="9" height="1"/><rect x="731" y="239" width="3" height="1"/><rect x="737" y="239" width="3" height="1"/><rect x="743" y="239" width="9" height="1"/><rect x="755" y="239" width="3" height="1"/><rect x="761" y="239" width="3" height="1"/><rect x="767" y="239" width="9" height="1"/><rect x="779" y="239" width="3" height="1"/><rect x="785" y="239" width="3" height="1"/><rect x="791" y="239" width="9" height="1"/><rect x="803" y="239" width="3" height="1"/><rect x="809" y="239" width="3" height="1"/><rect x="815" y="239" width="9" height="1"/><rect x="827" y="239" width="3" height="1"/><rect x="833" y="239" width="3" height="1"/><rect x="839" y="239" width="9" height="1"/><rect x="851" y="239" width="3" height="1"/><rect x="857" y="239" width="3" height="1"/><rect x="863" y="239" width="9" height="1"/><rect x="875" y="239" width="3" height="1"/><rect x="881" y="239" width="3" height="1"/><rect x="887" y="239" width="9" height="1"/><rect x="899" y="239" width="3" height="1"/><rect x="905" y="239" width="3" height="1"/><rect x="911" y="239" width="9" height="1"/><rect x="923" y="239" width="3" height="1"/><rect x="929" y="239" width="3" height="1"/><rect x="935" y="239" width="9" height="1"/><rect x="947" y="239" width="3" height="1"/><rect x="953" y="239" width="3" height="1"/><rect x="959" y="239" width="9" height="1"/><rect x="971" y="239" width="3" height="1"/><rect x="977" y="239" width="3" height="1"/><rect x="983" y="239" width="9" height="1"/><rect x="995" y="239" width="3" height="1"/><rect x="1001" y="239" width="3" height="1"/><rect x="1007" y="239" width="9" height="1"/><rect x="1019" y="239" width="3" height="1"/><rect x="1025" y="239" width="3" height="1"/><rect x="1031" y="239" width="9" height="1"/><rect x="1043" y="239" width="3" height="1"/><rect x="1049" y="239" width="3" height="1"/><rect x="1055" y="239" width="9" height="1"/><rect x="1067" y="239" width="3" height="1"/><rect x="1073" y="239" width="3" height="1"/><rect x="1079" y="239" width="9" height="1"/><rect x="1091" y="239" width="3" height="1"/><rect x="1097" y="239" width="3" height="1"/><rect x="1103" y="239" width="9" height="1"/><rect x="1115" y="239" width="3" height="1"/><rect x="1121" y="239" width="3" height="1"/><rect x="1127" y="239" width="9" height="1"/><rect x="1139" y="239" width="3" height="1"/><rect x="1145" y="239" width="3" height="1"/><rect x="1151" y="239" width="9" height="1"/><rect x="1163" y="239" width="3" height="1"/><rect x="1169" y="239" width="3" height="1"/></g>
<polyline points="20.0,860.6 1175.0,227.2" fill="none" stroke="#FF0000" stroke-width="1" shape-rendering="crispEdges" />
<rect x="895" y="182.35" width="277" height="3" fill="#000"/>
<ellipse cx="41.3" cy="844.9" rx="21.8" ry="6.0" fill="none" stroke="#000" stroke-width="3.0"/>
<ellipse cx="787.0" cy="437.1" rx="21.1" ry="4.4" fill="none" stroke="#000" stroke-width="3.0"/>
<ellipse cx="1073.5" cy="281.4" rx="39.7" ry="3.8" fill="none" stroke="#000" stroke-width="3.2"/>
<polygon points="1022.8,263.2 1046.1,193.2 1048.5,194.0 1046.6,184.5 1039.7,191.3 1042.1,192.0 1021.6,262.8" fill="#365BD2"/>
<polygon points="1051.6,187.9 1060.2,231.4 1057.8,231.9 1064.7,241.0 1066.8,229.8 1064.4,230.4 1052.6,187.7" fill="#365BD2"/>
<polygon points="1065.4,247.1 1070.7,278.0 1068.1,278.6 1074.5,286.2 1077.1,276.6 1074.6,277.2 1066.4,246.9" fill="#365BD2"/>
<polygon points="1065.7,240.1 1076.5,164.3 1078.8,164.6 1075.2,155.6 1069.5,163.5 1071.9,163.8 1064.1,239.9" fill="#365BD2"/>
<polygon points="1074.8,157.3 1081.7,182.9 1079.5,183.7 1086.9,191.2 1088.4,180.7 1086.1,181.5 1076.4,156.7" fill="#365BD2"/>
<polygon points="1087.5,184.1 1096.7,118.8 1099.6,119.1 1095.7,109.6 1089.7,117.9 1092.5,118.3 1086.1,183.9" fill="#365BD2"/>
<g shape-rendering="crispEdges" fill="#000"><rect x="1175" y="0" width="1" height="858"/><rect x="1176" y="12" width="2" height="1"/><rect x="1176" y="45" width="2" height="1"/><rect x="1176" y="78" width="2" height="1"/><rect x="1176" y="111" width="2" height="1"/><rect x="1176" y="144" width="2" height="1"/><rect x="1176" y="177" width="2" height="1"/><rect x="1176" y="210" width="2" height="1"/><rect x="1176" y="243" width="2" height="1"/><rect x="1176" y="276" width="2" height="1"/><rect x="1176" y="309" width="2" height="1"/><rect x="1176" y="342" width="2" height="1"/><rect x="1176" y="375" width="2" height="1"/><rect x="1176" y="408" width="2" height="1"/><rect x="1176" y="441" width="2" height="1"/><rect x="1176" y="474" width="2" height="1"/><rect x="1176" y="507" width="2" height="1"/><rect x="1176" y="540" width="2" height="1"/><rect x="1176" y="573" width="2" height="1"/><rect x="1176" y="606" width="2" height="1"/><rect x="1176" y="639" width="2" height="1"/><rect x="1176" y="672" width="2" height="1"/><rect x="1176" y="705" width="2" height="1"/><rect x="1176" y="738" width="2" height="1"/><rect x="1176" y="771" width="2" height="1"/><rect x="1176" y="804" width="2" height="1"/><rect x="1176" y="837" width="2" height="1"/></g>
<g fill="#000" stroke="#000"><text transform="translate(1181.2,16.0) rotate(0.03) scale(0.9,1)">60.360</text><text transform="translate(1181.2,49.0) rotate(0.03) scale(0.9,1)">59.660</text><text transform="translate(1181.2,82.0) rotate(0.03) scale(0.9,1)">58.960</text><text transform="translate(1181.2,115.0) rotate(0.03) scale(0.9,1)">58.260</text><text transform="translate(1181.2,148.0) rotate(0.03) scale(0.9,1)">57.540</text><text transform="translate(1181.2,181.0) rotate(0.03) scale(0.9,1)">56.840</text><text transform="translate(1181.2,214.0) rotate(0.03) scale(0.9,1)">56.140</text><text transform="translate(1181.2,247.0) rotate(0.03) scale(0.9,1)">55.440</text><text transform="translate(1181.2,280.0) rotate(0.03) scale(0.9,1)">54.740</text><text transform="translate(1181.2,313.0) rotate(0.03) scale(0.9,1)">54.040</text><text transform="translate(1181.2,346.0) rotate(0.03) scale(0.9,1)">53.340</text><text transform="translate(1181.2,379.0) rotate(0.03) scale(0.9,1)">52.640</text><text transform="translate(1181.2,412.0) rotate(0.03) scale(0.9,1)">51.920</text><text transform="translate(1181.2,445.0) rotate(0.03) scale(0.9,1)">51.220</text><text transform="translate(1181.2,478.0) rotate(0.03) scale(0.9,1)">50.520</text><text transform="translate(1181.2,511.0) rotate(0.03) scale(0.9,1)">49.820</text><text transform="translate(1181.2,544.0) rotate(0.03) scale(0.9,1)">49.120</text><text transform="translate(1181.2,577.0) rotate(0.03) scale(0.9,1)">48.420</text><text transform="translate(1181.2,610.0) rotate(0.03) scale(0.9,1)">47.720</text><text transform="translate(1181.2,643.0) rotate(0.03) scale(0.9,1)">47.020</text><text transform="translate(1181.2,676.0) rotate(0.03) scale(0.9,1)">46.300</text><text transform="translate(1181.2,709.0) rotate(0.03) scale(0.9,1)">45.600</text><text transform="translate(1181.2,742.0) rotate(0.03) scale(0.9,1)">44.900</text><text transform="translate(1181.2,775.0) rotate(0.03) scale(0.9,1)">44.200</text><text transform="translate(1181.2,808.0) rotate(0.03) scale(0.9,1)">43.500</text><text transform="translate(1181.2,841.0) rotate(0.03) scale(0.9,1)">42.800</text></g>
<g fill="#000" stroke="#000" text-anchor="end"><text transform="translate(1174.2,139.0) rotate(0.03) scale(0.93,1)">38.2</text><text transform="translate(1174.2,423.0) rotate(0.03) scale(0.93,1)">50.0</text><text transform="translate(1174.2,706.0) rotate(0.03) scale(0.93,1)">61.8</text></g>
<rect x="1177" y="188" width="36" height="11" fill="#A0522D" shape-rendering="crispEdges"/><rect x="1177" y="205" width="36" height="11" fill="#A0522D" shape-rendering="crispEdges"/><rect x="1177" y="216" width="36" height="11" fill="#A0522D" shape-rendering="crispEdges"/><rect x="1177" y="233" width="36" height="11" fill="#9ACD32" shape-rendering="crispEdges"/><rect x="1177" y="250" width="36" height="11" fill="#A0522D" shape-rendering="crispEdges"/><rect x="1177" y="261" width="36" height="11" fill="#A0522D" shape-rendering="crispEdges"/><rect x="1177" y="277" width="36" height="11" fill="#A0522D" shape-rendering="crispEdges"/><text transform="translate(1181.2,197.0) rotate(0.03) scale(0.9,1)" fill="#fff" stroke="#fff">56.484</text><text transform="translate(1181.2,214.0) rotate(0.03) scale(0.9,1)" fill="#fff" stroke="#fff">56.129</text><text transform="translate(1181.2,225.0) rotate(0.03) scale(0.9,1)" fill="#fff" stroke="#fff">55.898</text><text transform="translate(1181.2,242.0) rotate(0.03) scale(0.9,1)" fill="#fff" stroke="#fff">55.533</text><text transform="translate(1181.2,259.0) rotate(0.03) scale(0.9,1)" fill="#fff" stroke="#fff">55.169</text><text transform="translate(1181.2,270.0) rotate(0.03) scale(0.9,1)" fill="#fff" stroke="#fff">54.938</text><text transform="translate(1181.2,286.0) rotate(0.03) scale(0.9,1)" fill="#fff" stroke="#fff">54.583</text>
</svg>
</body></html>
